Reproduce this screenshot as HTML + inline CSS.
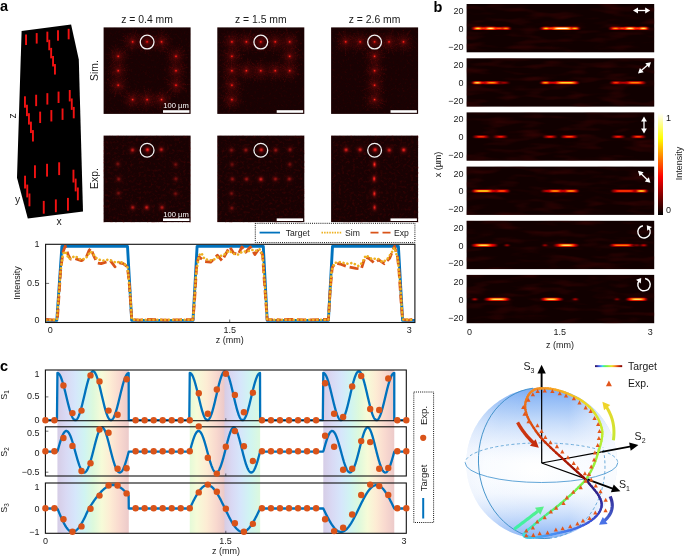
<!DOCTYPE html>
<html lang="en"><head><meta charset="utf-8"><title>Figure</title>
<style>
html,body{margin:0;padding:0;background:#fff;}
svg{display:block;}
text{font-family:"Liberation Sans",Arial,Helvetica,sans-serif;fill:#1a1a1a;}
.t9{font-size:9px;}
.t10{font-size:10.4px;}
.b{font-weight:bold;font-size:14.5px;fill:#000;}
</style></head><body>
<svg width="685" height="556" viewBox="0 0 685 556">
<rect width="685" height="556" fill="#fff"/>
<defs>
<radialGradient id="spS"><stop offset="0" stop-color="#ff4a2a"/><stop offset="0.14" stop-color="#e01410" stop-opacity="0.95"/><stop offset="0.32" stop-color="#8a0808" stop-opacity="0.6"/><stop offset="0.6" stop-color="#5a0505" stop-opacity="0.28"/><stop offset="1" stop-color="#400303" stop-opacity="0"/></radialGradient>
<radialGradient id="spE"><stop offset="0" stop-color="#ff3a2a"/><stop offset="0.26" stop-color="#d81414" stop-opacity="0.9"/><stop offset="0.55" stop-color="#7a0a0a" stop-opacity="0.45"/><stop offset="1" stop-color="#400303" stop-opacity="0"/></radialGradient>
<radialGradient id="glow"><stop offset="0" stop-color="#7a0a0a" stop-opacity="0.55"/><stop offset="0.5" stop-color="#500606" stop-opacity="0.3"/><stop offset="1" stop-color="#300303" stop-opacity="0"/></radialGradient>
<radialGradient id="mglow"><stop offset="0" stop-color="#fff"/><stop offset="0.45" stop-color="#aaa"/><stop offset="1" stop-color="#000" stop-opacity="0"/></radialGradient>
<filter id="nz0" x="0" y="0" width="100%" height="100%" color-interpolation-filters="sRGB"><feTurbulence type="fractalNoise" baseFrequency="0.42" numOctaves="3" seed="7"/><feColorMatrix type="matrix" values="0 0 0 0 0.5  0 0 0 0 0.03  0 0 0 0 0.03  1.9 0 0 0 -0.98"/><feGaussianBlur stdDeviation="0.45"/></filter>
<filter id="nz1" x="0" y="0" width="100%" height="100%" color-interpolation-filters="sRGB"><feTurbulence type="fractalNoise" baseFrequency="0.36" numOctaves="3" seed="11"/><feColorMatrix type="matrix" values="0 0 0 0 0.5  0 0 0 0 0.03  0 0 0 0 0.03  2.1 0 0 0 -1.02"/><feGaussianBlur stdDeviation="0.55"/></filter>
<g id="sb" stroke="#b01414" stroke-width="0.55" stroke-dasharray="1.4 0.9" fill="none"><line x1="2.52" y1="-0.25" x2="11.39" y2="-1.15" opacity="0.61"/><line x1="2.56" y1="0.81" x2="12.06" y2="3.83" opacity="0.63"/><line x1="1.31" y1="1.31" x2="4.96" y2="4.97" opacity="0.55"/><line x1="0.58" y1="1.5" x2="4.51" y2="11.72" opacity="0.48"/><line x1="0.13" y1="1.56" x2="1.12" y2="13.94" opacity="0.76"/><line x1="-1.17" y1="2.12" x2="-3.5" y2="6.33" opacity="0.53"/><line x1="-1.18" y1="1.18" x2="-9.65" y2="9.67" opacity="0.55"/><line x1="-2.4" y1="1.3" x2="-6.92" y2="3.75" opacity="0.86"/><line x1="-2.33" y1="0.03" x2="-9.4" y2="0.13" opacity="0.62"/><line x1="-1.49" y1="-0.46" x2="-12.48" y2="-3.84" opacity="0.48"/><line x1="-1.17" y1="-1.38" x2="-8.89" y2="-10.53" opacity="0.84"/><line x1="-0.82" y1="-2.51" x2="-3.44" y2="-10.52" opacity="0.75"/><line x1="-0.25" y1="-2.2" x2="-1.45" y2="-12.71" opacity="0.46"/><line x1="1.41" y1="-2.46" x2="4.9" y2="-8.56" opacity="0.55"/><line x1="1.45" y1="-1.49" x2="9.73" y2="-10.02" opacity="0.56"/><line x1="1.41" y1="-0.84" x2="10.35" y2="-6.13" opacity="0.9"/></g>
</defs>
<text class="b" x="0" y="11.2">a</text>
<polygon points="21.6,31.1 71.1,24.6 78.8,59.5 83,211.6 27.8,218.5 17,177.8" fill="#000"/>
<g fill="#f21212"><rect x="25.1" y="34.5" width="1.9" height="10.5"/><rect x="35.75" y="33.08" width="1.9" height="10.5"/><rect x="46.4" y="31.66" width="1.9" height="10.5"/><rect x="57.05" y="30.24" width="1.9" height="10.5"/><rect x="67.7" y="28.82" width="1.9" height="10.5"/><rect x="48.3" y="39.76" width="1.9" height="10.5"/><rect x="50.2" y="47.86" width="1.9" height="10.5"/><rect x="52.1" y="55.96" width="1.9" height="10.5"/><rect x="54" y="64.06" width="1.9" height="10.5"/><rect x="24" y="96.3" width="1.9" height="11.4"/><rect x="35.2" y="94.73" width="1.9" height="11.4"/><rect x="46.4" y="93.16" width="1.9" height="11.4"/><rect x="57.6" y="91.59" width="1.9" height="11.4"/><rect x="68.8" y="90.02" width="1.9" height="11.4"/><rect x="26" y="104.75" width="1.9" height="11.4"/><rect x="70.8" y="98.47" width="1.9" height="11.4"/><rect x="28" y="113.2" width="1.9" height="11.4"/><rect x="39.2" y="111.63" width="1.9" height="11.4"/><rect x="50.4" y="110.06" width="1.9" height="11.4"/><rect x="61.6" y="108.49" width="1.9" height="11.4"/><rect x="72.8" y="106.92" width="1.9" height="11.4"/><rect x="30" y="121.65" width="1.9" height="11.4"/><rect x="32" y="130.1" width="1.9" height="11.4"/><rect x="34" y="165.3" width="1.9" height="12.8"/><rect x="46.1" y="163.8" width="1.9" height="12.8"/><rect x="58.2" y="162.3" width="1.9" height="12.8"/><rect x="24.1" y="175.7" width="1.9" height="12.8"/><rect x="72.5" y="169.7" width="1.9" height="12.8"/><rect x="26.3" y="184.6" width="1.9" height="12.8"/><rect x="74.7" y="178.6" width="1.9" height="12.8"/><rect x="28.5" y="193.5" width="1.9" height="12.8"/><rect x="76.9" y="187.5" width="1.9" height="12.8"/><rect x="42.8" y="200.9" width="1.9" height="12.8"/><rect x="54.9" y="199.4" width="1.9" height="12.8"/><rect x="67" y="197.9" width="1.9" height="12.8"/></g>
<text class="t10" transform="translate(16,115.8) rotate(-90)" text-anchor="middle">z</text>
<text class="t10" x="17.5" y="203" text-anchor="middle">y</text>
<text class="t10" x="59" y="225" text-anchor="middle">x</text>
<text class="t10" x="147.1" y="22.6" text-anchor="middle">z = 0.4 mm</text>
<g><rect x="103.6" y="27.4" width="87" height="86.5" fill="#190203"/>
<mask id="mk0" maskUnits="userSpaceOnUse" x="103.6" y="27.4" width="87" height="86.5"><rect x="103.6" y="27.4" width="87" height="86.5" fill="#3a3a3a"/><circle cx="132.65" cy="41.85" r="17" fill="url(#mglow)"/><circle cx="147.1" cy="41.85" r="17" fill="url(#mglow)"/><circle cx="161.55" cy="41.85" r="17" fill="url(#mglow)"/><circle cx="118.2" cy="56.3" r="17" fill="url(#mglow)"/><circle cx="176" cy="56.3" r="17" fill="url(#mglow)"/><circle cx="118.2" cy="70.75" r="17" fill="url(#mglow)"/><circle cx="176" cy="70.75" r="17" fill="url(#mglow)"/><circle cx="118.2" cy="85.2" r="17" fill="url(#mglow)"/><circle cx="176" cy="85.2" r="17" fill="url(#mglow)"/><circle cx="132.65" cy="99.65" r="17" fill="url(#mglow)"/><circle cx="147.1" cy="99.65" r="17" fill="url(#mglow)"/><circle cx="161.55" cy="99.65" r="17" fill="url(#mglow)"/></mask>
<g mask="url(#mk0)"><rect x="103.6" y="27.4" width="87" height="86.5" filter="url(#nz0)"/></g>
<use href="#sb" transform="translate(132.65,41.85) rotate(318)" opacity="0.42"/><circle cx="132.65" cy="41.85" r="12" fill="url(#glow)"/><circle cx="132.65" cy="41.85" r="4.2" fill="url(#spS)"/>
<use href="#sb" transform="translate(147.1,41.85) rotate(130)" opacity="0.42"/><circle cx="147.1" cy="41.85" r="12" fill="url(#glow)"/><circle cx="147.1" cy="41.85" r="4.2" fill="url(#spS)"/>
<use href="#sb" transform="translate(161.55,41.85) rotate(183)" opacity="0.42"/><circle cx="161.55" cy="41.85" r="12" fill="url(#glow)"/><circle cx="161.55" cy="41.85" r="4.2" fill="url(#spS)"/>
<use href="#sb" transform="translate(118.2,56.3) rotate(353)" opacity="0.42"/><circle cx="118.2" cy="56.3" r="12" fill="url(#glow)"/><circle cx="118.2" cy="56.3" r="4.2" fill="url(#spS)"/>
<use href="#sb" transform="translate(176,56.3) rotate(333)" opacity="0.42"/><circle cx="176" cy="56.3" r="12" fill="url(#glow)"/><circle cx="176" cy="56.3" r="4.2" fill="url(#spS)"/>
<use href="#sb" transform="translate(118.2,70.75) rotate(271)" opacity="0.42"/><circle cx="118.2" cy="70.75" r="12" fill="url(#glow)"/><circle cx="118.2" cy="70.75" r="4.2" fill="url(#spS)"/>
<use href="#sb" transform="translate(176,70.75) rotate(14)" opacity="0.42"/><circle cx="176" cy="70.75" r="12" fill="url(#glow)"/><circle cx="176" cy="70.75" r="4.2" fill="url(#spS)"/>
<use href="#sb" transform="translate(118.2,85.2) rotate(238)" opacity="0.42"/><circle cx="118.2" cy="85.2" r="12" fill="url(#glow)"/><circle cx="118.2" cy="85.2" r="4.2" fill="url(#spS)"/>
<use href="#sb" transform="translate(176,85.2) rotate(127)" opacity="0.42"/><circle cx="176" cy="85.2" r="12" fill="url(#glow)"/><circle cx="176" cy="85.2" r="4.2" fill="url(#spS)"/>
<use href="#sb" transform="translate(132.65,99.65) rotate(332)" opacity="0.42"/><circle cx="132.65" cy="99.65" r="12" fill="url(#glow)"/><circle cx="132.65" cy="99.65" r="4.2" fill="url(#spS)"/>
<use href="#sb" transform="translate(147.1,99.65) rotate(26)" opacity="0.42"/><circle cx="147.1" cy="99.65" r="12" fill="url(#glow)"/><circle cx="147.1" cy="99.65" r="4.2" fill="url(#spS)"/>
<use href="#sb" transform="translate(161.55,99.65) rotate(80)" opacity="0.42"/><circle cx="161.55" cy="99.65" r="12" fill="url(#glow)"/><circle cx="161.55" cy="99.65" r="4.2" fill="url(#spS)"/>
<circle cx="147.1" cy="42.05" r="6.9" fill="none" stroke="#f2f2f2" stroke-width="1.3"/>
<rect x="163" y="110.2" width="26.4" height="2.6" fill="#fff"/>
<text x="176.1" y="108.3" text-anchor="middle" style="font-size:7.6px;fill:#fff">100 µm</text>
</g>
<g><rect x="103.6" y="135.6" width="87" height="86.5" fill="#190203"/>
<rect x="103.6" y="135.6" width="87" height="86.5" filter="url(#nz1)" opacity="0.33"/>
<circle cx="132.56" cy="150.09" r="8" fill="url(#glow)" opacity="0.56"/><circle cx="132.56" cy="150.09" r="4.4" fill="url(#spE)" opacity="0.7"/>
<circle cx="147.46" cy="149.73" r="8" fill="url(#glow)" opacity="0.76"/><circle cx="147.46" cy="149.73" r="4.4" fill="url(#spE)" opacity="0.95"/>
<circle cx="161.28" cy="149.58" r="8" fill="url(#glow)" opacity="0.56"/><circle cx="161.28" cy="149.58" r="4.4" fill="url(#spE)" opacity="0.7"/>
<circle cx="117.82" cy="164.01" r="8" fill="url(#glow)" opacity="0.3"/><circle cx="117.82" cy="164.01" r="4.4" fill="url(#spE)" opacity="0.38"/>
<circle cx="175.66" cy="164.51" r="8" fill="url(#glow)" opacity="0.29"/><circle cx="175.66" cy="164.51" r="4.4" fill="url(#spE)" opacity="0.36"/>
<circle cx="118.69" cy="179.14" r="8" fill="url(#glow)" opacity="0.34"/><circle cx="118.69" cy="179.14" r="4.4" fill="url(#spE)" opacity="0.42"/>
<circle cx="175.88" cy="178.86" r="8" fill="url(#glow)" opacity="0.29"/><circle cx="175.88" cy="178.86" r="4.4" fill="url(#spE)" opacity="0.36"/>
<circle cx="118.39" cy="193.23" r="8" fill="url(#glow)" opacity="0.29"/><circle cx="118.39" cy="193.23" r="4.4" fill="url(#spE)" opacity="0.36"/>
<circle cx="175.57" cy="193.74" r="8" fill="url(#glow)" opacity="0.29"/><circle cx="175.57" cy="193.74" r="4.4" fill="url(#spE)" opacity="0.36"/>
<circle cx="132.77" cy="207.46" r="8" fill="url(#glow)" opacity="0.48"/><circle cx="132.77" cy="207.46" r="4.4" fill="url(#spE)" opacity="0.6"/>
<circle cx="146.67" cy="207.44" r="8" fill="url(#glow)" opacity="0.58"/><circle cx="146.67" cy="207.44" r="4.4" fill="url(#spE)" opacity="0.72"/>
<circle cx="162.01" cy="207.46" r="8" fill="url(#glow)" opacity="0.48"/><circle cx="162.01" cy="207.46" r="4.4" fill="url(#spE)" opacity="0.6"/>
<circle cx="147.1" cy="150.25" r="6.9" fill="none" stroke="#f2f2f2" stroke-width="1.3"/>
<rect x="163" y="218.4" width="26.4" height="2.6" fill="#fff"/>
<text x="176.1" y="216.5" text-anchor="middle" style="font-size:7.6px;fill:#fff">100 µm</text>
</g>
<text class="t10" x="260.8" y="22.6" text-anchor="middle">z = 1.5 mm</text>
<g><rect x="217.3" y="27.4" width="87" height="86.5" fill="#190203"/>
<mask id="mk1" maskUnits="userSpaceOnUse" x="217.3" y="27.4" width="87" height="86.5"><rect x="217.3" y="27.4" width="87" height="86.5" fill="#3a3a3a"/><circle cx="231.9" cy="41.85" r="17" fill="url(#mglow)"/><circle cx="246.35" cy="41.85" r="17" fill="url(#mglow)"/><circle cx="260.8" cy="41.85" r="17" fill="url(#mglow)"/><circle cx="275.25" cy="41.85" r="17" fill="url(#mglow)"/><circle cx="289.7" cy="41.85" r="17" fill="url(#mglow)"/><circle cx="231.9" cy="56.3" r="17" fill="url(#mglow)"/><circle cx="289.7" cy="56.3" r="17" fill="url(#mglow)"/><circle cx="231.9" cy="70.75" r="17" fill="url(#mglow)"/><circle cx="246.35" cy="70.75" r="17" fill="url(#mglow)"/><circle cx="260.8" cy="70.75" r="17" fill="url(#mglow)"/><circle cx="275.25" cy="70.75" r="17" fill="url(#mglow)"/><circle cx="289.7" cy="70.75" r="17" fill="url(#mglow)"/><circle cx="231.9" cy="85.2" r="17" fill="url(#mglow)"/><circle cx="231.9" cy="99.65" r="17" fill="url(#mglow)"/></mask>
<g mask="url(#mk1)"><rect x="217.3" y="27.4" width="87" height="86.5" filter="url(#nz0)"/></g>
<use href="#sb" transform="translate(231.9,41.85) rotate(92)" opacity="0.42"/><circle cx="231.9" cy="41.85" r="12" fill="url(#glow)"/><circle cx="231.9" cy="41.85" r="4.2" fill="url(#spS)"/>
<use href="#sb" transform="translate(246.35,41.85) rotate(62)" opacity="0.42"/><circle cx="246.35" cy="41.85" r="12" fill="url(#glow)"/><circle cx="246.35" cy="41.85" r="4.2" fill="url(#spS)"/>
<use href="#sb" transform="translate(260.8,41.85) rotate(338)" opacity="0.42"/><circle cx="260.8" cy="41.85" r="12" fill="url(#glow)"/><circle cx="260.8" cy="41.85" r="4.2" fill="url(#spS)"/>
<use href="#sb" transform="translate(275.25,41.85) rotate(229)" opacity="0.42"/><circle cx="275.25" cy="41.85" r="12" fill="url(#glow)"/><circle cx="275.25" cy="41.85" r="4.2" fill="url(#spS)"/>
<use href="#sb" transform="translate(289.7,41.85) rotate(171)" opacity="0.42"/><circle cx="289.7" cy="41.85" r="12" fill="url(#glow)"/><circle cx="289.7" cy="41.85" r="4.2" fill="url(#spS)"/>
<use href="#sb" transform="translate(231.9,56.3) rotate(122)" opacity="0.42"/><circle cx="231.9" cy="56.3" r="12" fill="url(#glow)"/><circle cx="231.9" cy="56.3" r="4.2" fill="url(#spS)"/>
<use href="#sb" transform="translate(289.7,56.3) rotate(101)" opacity="0.42"/><circle cx="289.7" cy="56.3" r="12" fill="url(#glow)"/><circle cx="289.7" cy="56.3" r="4.2" fill="url(#spS)"/>
<use href="#sb" transform="translate(231.9,70.75) rotate(250)" opacity="0.42"/><circle cx="231.9" cy="70.75" r="12" fill="url(#glow)"/><circle cx="231.9" cy="70.75" r="4.2" fill="url(#spS)"/>
<use href="#sb" transform="translate(246.35,70.75) rotate(321)" opacity="0.42"/><circle cx="246.35" cy="70.75" r="12" fill="url(#glow)"/><circle cx="246.35" cy="70.75" r="4.2" fill="url(#spS)"/>
<use href="#sb" transform="translate(260.8,70.75) rotate(252)" opacity="0.42"/><circle cx="260.8" cy="70.75" r="12" fill="url(#glow)"/><circle cx="260.8" cy="70.75" r="4.2" fill="url(#spS)"/>
<use href="#sb" transform="translate(275.25,70.75) rotate(93)" opacity="0.42"/><circle cx="275.25" cy="70.75" r="12" fill="url(#glow)"/><circle cx="275.25" cy="70.75" r="4.2" fill="url(#spS)"/>
<use href="#sb" transform="translate(289.7,70.75) rotate(245)" opacity="0.42"/><circle cx="289.7" cy="70.75" r="12" fill="url(#glow)"/><circle cx="289.7" cy="70.75" r="4.2" fill="url(#spS)"/>
<use href="#sb" transform="translate(231.9,85.2) rotate(151)" opacity="0.42"/><circle cx="231.9" cy="85.2" r="12" fill="url(#glow)"/><circle cx="231.9" cy="85.2" r="4.2" fill="url(#spS)"/>
<use href="#sb" transform="translate(231.9,99.65) rotate(234)" opacity="0.42"/><circle cx="231.9" cy="99.65" r="12" fill="url(#glow)"/><circle cx="231.9" cy="99.65" r="4.2" fill="url(#spS)"/>
<circle cx="260.8" cy="42.05" r="6.9" fill="none" stroke="#f2f2f2" stroke-width="1.3"/>
<rect x="276.7" y="110.2" width="26.4" height="2.6" fill="#fff"/>
</g>
<g><rect x="217.3" y="135.6" width="87" height="86.5" fill="#190203"/>
<rect x="217.3" y="135.6" width="87" height="86.5" filter="url(#nz1)" opacity="0.33"/>
<circle cx="231.44" cy="150.14" r="8" fill="url(#glow)" opacity="0.34"/><circle cx="231.44" cy="150.14" r="4.4" fill="url(#spE)" opacity="0.42"/>
<circle cx="245.87" cy="150.06" r="8" fill="url(#glow)" opacity="0.4"/><circle cx="245.87" cy="150.06" r="4.4" fill="url(#spE)" opacity="0.5"/>
<circle cx="261.28" cy="149.84" r="8" fill="url(#glow)" opacity="0.68"/><circle cx="261.28" cy="149.84" r="4.4" fill="url(#spE)" opacity="0.85"/>
<circle cx="275.72" cy="150.19" r="8" fill="url(#glow)" opacity="0.4"/><circle cx="275.72" cy="150.19" r="4.4" fill="url(#spE)" opacity="0.5"/>
<circle cx="290.08" cy="149.57" r="8" fill="url(#glow)" opacity="0.37"/><circle cx="290.08" cy="149.57" r="4.4" fill="url(#spE)" opacity="0.46"/>
<circle cx="232.14" cy="164.52" r="8" fill="url(#glow)" opacity="0.26"/><circle cx="232.14" cy="164.52" r="4.4" fill="url(#spE)" opacity="0.32"/>
<circle cx="289.8" cy="164.38" r="8" fill="url(#glow)" opacity="0.29"/><circle cx="289.8" cy="164.38" r="4.4" fill="url(#spE)" opacity="0.36"/>
<circle cx="232.38" cy="179.11" r="8" fill="url(#glow)" opacity="0.37"/><circle cx="232.38" cy="179.11" r="4.4" fill="url(#spE)" opacity="0.46"/>
<circle cx="246.58" cy="179.13" r="8" fill="url(#glow)" opacity="0.4"/><circle cx="246.58" cy="179.13" r="4.4" fill="url(#spE)" opacity="0.5"/>
<circle cx="260.85" cy="179.26" r="8" fill="url(#glow)" opacity="0.62"/><circle cx="260.85" cy="179.26" r="4.4" fill="url(#spE)" opacity="0.78"/>
<circle cx="275.37" cy="179.02" r="8" fill="url(#glow)" opacity="0.4"/><circle cx="275.37" cy="179.02" r="4.4" fill="url(#spE)" opacity="0.5"/>
<circle cx="289.34" cy="179.01" r="8" fill="url(#glow)" opacity="0.4"/><circle cx="289.34" cy="179.01" r="4.4" fill="url(#spE)" opacity="0.5"/>
<circle cx="231.55" cy="193.49" r="8" fill="url(#glow)" opacity="0.29"/><circle cx="231.55" cy="193.49" r="4.4" fill="url(#spE)" opacity="0.36"/>
<circle cx="231.83" cy="208.11" r="8" fill="url(#glow)" opacity="0.29"/><circle cx="231.83" cy="208.11" r="4.4" fill="url(#spE)" opacity="0.36"/>
<circle cx="260.8" cy="150.25" r="6.9" fill="none" stroke="#f2f2f2" stroke-width="1.3"/>
<rect x="276.7" y="218.4" width="26.4" height="2.6" fill="#fff"/>
</g>
<text class="t10" x="374.6" y="22.6" text-anchor="middle">z = 2.6 mm</text>
<g><rect x="331.1" y="27.4" width="87" height="86.5" fill="#190203"/>
<mask id="mk2" maskUnits="userSpaceOnUse" x="331.1" y="27.4" width="87" height="86.5"><rect x="331.1" y="27.4" width="87" height="86.5" fill="#3a3a3a"/><circle cx="345.7" cy="41.85" r="17" fill="url(#mglow)"/><circle cx="360.15" cy="41.85" r="17" fill="url(#mglow)"/><circle cx="374.6" cy="41.85" r="17" fill="url(#mglow)"/><circle cx="389.05" cy="41.85" r="17" fill="url(#mglow)"/><circle cx="403.5" cy="41.85" r="17" fill="url(#mglow)"/><circle cx="374.6" cy="56.3" r="17" fill="url(#mglow)"/><circle cx="374.6" cy="70.75" r="17" fill="url(#mglow)"/><circle cx="374.6" cy="85.2" r="17" fill="url(#mglow)"/><circle cx="374.6" cy="99.65" r="17" fill="url(#mglow)"/></mask>
<g mask="url(#mk2)"><rect x="331.1" y="27.4" width="87" height="86.5" filter="url(#nz0)"/></g>
<use href="#sb" transform="translate(345.7,41.85) rotate(6)" opacity="0.42"/><circle cx="345.7" cy="41.85" r="12" fill="url(#glow)"/><circle cx="345.7" cy="41.85" r="4.2" fill="url(#spS)"/>
<use href="#sb" transform="translate(360.15,41.85) rotate(240)" opacity="0.42"/><circle cx="360.15" cy="41.85" r="12" fill="url(#glow)"/><circle cx="360.15" cy="41.85" r="4.2" fill="url(#spS)"/>
<use href="#sb" transform="translate(374.6,41.85) rotate(57)" opacity="0.42"/><circle cx="374.6" cy="41.85" r="12" fill="url(#glow)"/><circle cx="374.6" cy="41.85" r="4.2" fill="url(#spS)"/>
<use href="#sb" transform="translate(389.05,41.85) rotate(201)" opacity="0.42"/><circle cx="389.05" cy="41.85" r="12" fill="url(#glow)"/><circle cx="389.05" cy="41.85" r="4.2" fill="url(#spS)"/>
<use href="#sb" transform="translate(403.5,41.85) rotate(72)" opacity="0.42"/><circle cx="403.5" cy="41.85" r="12" fill="url(#glow)"/><circle cx="403.5" cy="41.85" r="4.2" fill="url(#spS)"/>
<use href="#sb" transform="translate(374.6,56.3) rotate(350)" opacity="0.42"/><circle cx="374.6" cy="56.3" r="12" fill="url(#glow)"/><circle cx="374.6" cy="56.3" r="4.2" fill="url(#spS)"/>
<use href="#sb" transform="translate(374.6,70.75) rotate(22)" opacity="0.42"/><circle cx="374.6" cy="70.75" r="12" fill="url(#glow)"/><circle cx="374.6" cy="70.75" r="4.2" fill="url(#spS)"/>
<use href="#sb" transform="translate(374.6,85.2) rotate(71)" opacity="0.42"/><circle cx="374.6" cy="85.2" r="12" fill="url(#glow)"/><circle cx="374.6" cy="85.2" r="4.2" fill="url(#spS)"/>
<use href="#sb" transform="translate(374.6,99.65) rotate(57)" opacity="0.42"/><circle cx="374.6" cy="99.65" r="12" fill="url(#glow)"/><circle cx="374.6" cy="99.65" r="4.2" fill="url(#spS)"/>
<circle cx="374.6" cy="42.05" r="6.9" fill="none" stroke="#f2f2f2" stroke-width="1.3"/>
<rect x="390.5" y="110.2" width="26.4" height="2.6" fill="#fff"/>
</g>
<g><rect x="331.1" y="135.6" width="87" height="86.5" fill="#190203"/>
<rect x="331.1" y="135.6" width="87" height="86.5" filter="url(#nz1)" opacity="0.33"/>
<circle cx="346.11" cy="149.84" r="8" fill="url(#glow)" opacity="0.64"/><circle cx="346.11" cy="149.84" r="4.4" fill="url(#spE)" opacity="0.8"/>
<circle cx="360.11" cy="149.69" r="8" fill="url(#glow)" opacity="0.64"/><circle cx="360.11" cy="149.69" r="4.4" fill="url(#spE)" opacity="0.8"/>
<circle cx="375.1" cy="149.7" r="8" fill="url(#glow)" opacity="0.8"/><circle cx="375.1" cy="149.7" r="4.4" fill="url(#spE)" opacity="1"/>
<circle cx="389.22" cy="150.15" r="8" fill="url(#glow)" opacity="0.64"/><circle cx="389.22" cy="150.15" r="4.4" fill="url(#spE)" opacity="0.8"/>
<circle cx="403.71" cy="149.96" r="8" fill="url(#glow)" opacity="0.74"/><circle cx="403.71" cy="149.96" r="4.4" fill="url(#spE)" opacity="0.92"/>
<circle cx="374.48" cy="164.4" r="8" fill="url(#glow)" opacity="0.8"/><ellipse cx="374.48" cy="164.4" rx="3.2" ry="5.6" fill="url(#spE)" opacity="1"/>
<circle cx="374.17" cy="178.77" r="8" fill="url(#glow)" opacity="0.8"/><ellipse cx="374.17" cy="178.77" rx="3.2" ry="5.6" fill="url(#spE)" opacity="1"/>
<circle cx="374.38" cy="193.68" r="8" fill="url(#glow)" opacity="0.72"/><ellipse cx="374.38" cy="193.68" rx="3.2" ry="5.6" fill="url(#spE)" opacity="0.9"/>
<circle cx="374.55" cy="207.45" r="8" fill="url(#glow)" opacity="0.64"/><ellipse cx="374.55" cy="207.45" rx="3.2" ry="5.6" fill="url(#spE)" opacity="0.8"/>
<circle cx="374.6" cy="150.25" r="6.9" fill="none" stroke="#f2f2f2" stroke-width="1.3"/>
<rect x="390.5" y="218.4" width="26.4" height="2.6" fill="#fff"/>
</g>
<text class="t10" transform="translate(97.5,70.5) rotate(-90)" text-anchor="middle">Sim.</text>
<text class="t10" transform="translate(97.5,178.5) rotate(-90)" text-anchor="middle">Exp.</text>
<rect x="255.3" y="223.3" width="159.6" height="19.3" fill="#fff" stroke="#111" stroke-width="1" stroke-dasharray="1 1.1"/>
<line x1="259.6" y1="232.6" x2="280" y2="232.6" stroke="#0072bd" stroke-width="1.8"/>
<text class="t9" x="285.8" y="235.8" style="font-size:8.6px">Target</text>
<line x1="321.5" y1="232.6" x2="341.5" y2="232.6" stroke="#edb120" stroke-width="1.6" stroke-dasharray="1.5 1.1"/>
<text class="t9" x="345" y="235.8" style="font-size:8.6px">Sim</text>
<line x1="370.5" y1="232.6" x2="390.5" y2="232.6" stroke="#d95319" stroke-width="1.8" stroke-dasharray="8 4"/>
<text class="t9" x="394" y="235.8" style="font-size:8.6px">Exp</text>
<rect x="45.6" y="244.3" width="369.3" height="78.2" fill="#fff"/>
<clipPath id="cpI"><rect x="45.6" y="244.3" width="369.3" height="78.2"/></clipPath>
<g clip-path="url(#cpI)" fill="none" stroke-linejoin="round">
<polyline points="45.6,320.4 56.8,320.4 61.9,246.4 127.5,246.4 131.7,320.4 193,320.4 197.1,246.4 263.3,246.4 267.2,320.4 328.4,320.4 332.5,246.4 398.4,246.4 402.6,320.4 414.9,320.4" stroke="#0072bd" stroke-width="2.9"/>
<polyline points="46.12,319.51 56.06,320.28 57.58,316.45 60.64,270.58 62.94,252.23 65.23,246.12 68.29,255.29 70.58,259.11 75.17,258.65 81.28,260.64 85.87,258.35 88.93,250.7 90.76,248.41 93.52,255.29 97.34,262.94 101.16,263.7 105.75,262.17 110.34,260.64 114.92,266.76 119.51,262.94 123.33,263.7 127.46,266.76 129.45,285.87 131.74,319.51 138.72,320.12 149.42,319.36 164.71,320.12 180,319.82 193,319.51 194.53,301.16 196.82,262.94 199.11,256.82 204.46,261.41 210.58,262.17 217.46,255.29 222.05,260.64 229.69,246.88 233.52,253 238.1,254.53 241.93,246.88 245.75,252.23 250.34,246.88 254.92,254.53 258.75,249.17 262.57,254.53 264.1,278.23 267.16,319.51 280,319.82 277.19,320.12 289.42,319.36 304.71,319.97 320,319.51 328.41,319.51 329.94,293.52 332.23,267.52 335.29,262.94 341.41,264.46 347.52,266.76 355.93,268.29 361.28,269.05 365.11,256.82 368.93,258.35 374.28,262.94 378.87,259.88 384.22,263.7 389.57,258.35 394.46,246.42 397.22,255.29 398.75,267.52 401.04,301.16 402.57,319.51 408.69,320.12 414.8,318.9" stroke="#d95319" stroke-width="2.8" stroke-dasharray="9 4"/>
<polyline points="46.12,320.12 56.82,319.82 60.64,270.58 62.94,253.76 65.23,251.47 69.05,259.11 75.17,256.06 81.28,259.88 85.87,258.35 90.46,251.47 93.52,254.53 97.34,259.11 102.69,260.64 107.28,259.88 111.87,260.64 116.45,262.94 119.51,261.41 124.1,263.7 127.46,266.76 130.21,293.52 131.74,319.51 138.72,319.82 193,319.82 196.06,273.64 199.11,255.29 201.41,253 204.46,259.11 212.11,260.64 218.23,256.82 224.34,254.53 228.93,250.7 233.52,253.76 238.1,254.53 242.69,251.47 247.28,251.47 251.87,249.94 256.45,250.7 259.51,249.17 262.57,255.29 264.86,285.87 267.16,319.51 277.19,319.82 328.41,319.82 331.47,270.58 334.53,262.94 339.88,262.17 347.52,263.7 352.87,262.94 358.23,265.99 362.05,262.94 365.87,255.29 371.99,259.11 377.34,258.35 382.69,262.17 387.28,259.11 391.87,252.23 394.46,247.65 397.98,259.88 400.28,285.87 402.57,319.51 414.8,319.82" stroke="#edb120" stroke-width="2.6" stroke-dasharray="0.1 3.8" stroke-linecap="round"/>
</g>
<rect x="45.6" y="244.3" width="369.3" height="78.2" fill="none" stroke="#111" stroke-width="1.1"/>
<path d="M45.6,283.4h3.5 M229.7,322.5v-3" stroke="#111" stroke-width="0.6" fill="none"/>
<text class="t9" x="39.5" y="247.1" text-anchor="end">1</text>
<text class="t9" x="39.5" y="286.3" text-anchor="end">0.5</text>
<text class="t9" x="39.5" y="323.4" text-anchor="end">0</text>
<text class="t9" x="50.3" y="332.6" text-anchor="middle">0</text>
<text class="t9" x="229.8" y="332.6" text-anchor="middle">1.5</text>
<text class="t9" x="409.3" y="332.6" text-anchor="middle">3</text>
<text class="t9" x="229.8" y="342.8" text-anchor="middle">z (mm)</text>
<text class="t9" transform="translate(19.6,283) rotate(-90)" text-anchor="middle">Intensity</text>
<defs>
<filter id="bl" x="-5%" y="-200%" width="110%" height="500%"><feGaussianBlur stdDeviation="1.1 0.5"/></filter>
<filter id="bnz" x="0" y="0" width="100%" height="100%" color-interpolation-filters="sRGB"><feTurbulence type="fractalNoise" baseFrequency="0.035 0.16" numOctaves="2" seed="11"/><feColorMatrix type="matrix" values="0 0 0 0 0.3  0 0 0 0 0.02  0 0 0 0 0.02  2.2 0 0 0 -1.0"/></filter>
<linearGradient id="cb" x1="0" y1="0" x2="0" y2="1"><stop offset="0" stop-color="#fff"/><stop offset="0.25" stop-color="#ffff00"/><stop offset="0.625" stop-color="#ff0000"/><stop offset="1" stop-color="#000"/></linearGradient>
</defs>
<text class="b" x="433.6" y="11.6">b</text>
<clipPath id="cpb0"><rect x="466.6" y="4" width="187.6" height="48.3"/></clipPath>
<rect x="466.6" y="4" width="187.6" height="48.3" fill="#110000"/>
<g clip-path="url(#cpb0)"><rect x="464.6" y="2" width="191.6" height="52.3" filter="url(#bnz)" opacity="0.55"/></g>
<g clip-path="url(#cpb0)"><g filter="url(#bl)">
<rect x="472" y="26.85" width="38.5" height="3.1" rx="1.55" fill="#940000" opacity="0.85"/><rect x="474.7" y="27.4" width="33.1" height="2.0" rx="1" fill="#f00000"/><rect x="477" y="27.85" width="28.5" height="1.1" rx="0.55" fill="#ff6200"/>
<rect x="540.5" y="26.85" width="39" height="3.1" rx="1.55" fill="#9d0000" opacity="0.85"/><rect x="543.2" y="27.4" width="33.6" height="2.0" rx="1" fill="#fe0000"/><rect x="545.5" y="27.85" width="29" height="1.1" rx="0.55" fill="#ff7700"/>
<rect x="609.5" y="26.85" width="39" height="3.1" rx="1.55" fill="#940000" opacity="0.85"/><rect x="612.2" y="27.4" width="33.6" height="2.0" rx="1" fill="#f00000"/><rect x="614.5" y="27.85" width="29" height="1.1" rx="0.55" fill="#ff6200"/>
<rect x="473.5" y="26.85" width="9" height="3.1" rx="1.55" fill="#e40000" opacity="0.85"/><rect x="475.44" y="27.4" width="5.12" height="2.0" rx="1" fill="#ff7200"/><rect x="476.4" y="27.85" width="3.2" height="1.1" rx="0.55" fill="#ffff33"/>
<rect x="484.5" y="26.85" width="12" height="3.1" rx="1.55" fill="#fb0000" opacity="0.85"/><rect x="486.98" y="27.4" width="7.04" height="2.0" rx="1" fill="#ff9700"/><rect x="488.3" y="27.85" width="4.4" height="1.1" rx="0.55" fill="#ffff84"/>
<rect x="501.5" y="26.85" width="8.5" height="3.1" rx="1.55" fill="#b10000" opacity="0.85"/><rect x="503.35" y="27.4" width="4.8" height="2.0" rx="1" fill="#ff1f00"/><rect x="504.25" y="27.85" width="3" height="1.1" rx="0.55" fill="#ffa600"/>
<rect x="542.5" y="26.85" width="7" height="3.1" rx="1.55" fill="#d60000" opacity="0.85"/><rect x="544.08" y="27.4" width="3.84" height="2.0" rx="1" fill="#ff5b00"/><rect x="544.8" y="27.85" width="2.4" height="1.1" rx="0.55" fill="#ffff00"/>
<rect x="551.5" y="26.85" width="21" height="3.1" rx="1.55" fill="#ff1600" opacity="0.85"/><rect x="554.2" y="27.4" width="15.6" height="2.0" rx="1" fill="#ffc100"/><rect x="556.5" y="27.85" width="11" height="1.1" rx="0.55" fill="#ffffe0"/>
<rect x="570.5" y="26.85" width="8.5" height="3.1" rx="1.55" fill="#c70000" opacity="0.85"/><rect x="572.35" y="27.4" width="4.8" height="2.0" rx="1" fill="#ff4400"/><rect x="573.25" y="27.85" width="3" height="1.1" rx="0.55" fill="#ffdc00"/>
<rect x="610.5" y="26.85" width="10" height="3.1" rx="1.55" fill="#b10000" opacity="0.85"/><rect x="612.62" y="27.4" width="5.76" height="2.0" rx="1" fill="#ff1f00"/><rect x="613.7" y="27.85" width="3.6" height="1.1" rx="0.55" fill="#ffa600"/>
<rect x="623.5" y="26.85" width="13" height="3.1" rx="1.55" fill="#fb0000" opacity="0.85"/><rect x="626.16" y="27.4" width="7.68" height="2.0" rx="1" fill="#ff9700"/><rect x="627.6" y="27.85" width="4.8" height="1.1" rx="0.55" fill="#ffff84"/>
<rect x="638.5" y="26.85" width="9.5" height="3.1" rx="1.55" fill="#f20000" opacity="0.85"/><rect x="640.53" y="27.4" width="5.44" height="2.0" rx="1" fill="#ff8a00"/><rect x="641.55" y="27.85" width="3.4" height="1.1" rx="0.55" fill="#ffff65"/>
</g></g>
<text class="t9" x="463.6" y="14" text-anchor="end">20</text><text class="t9" x="463.6" y="31.7" text-anchor="end">0</text><text class="t9" x="463.6" y="49.6" text-anchor="end">−20</text>
<clipPath id="cpb1"><rect x="466.6" y="58.3" width="187.6" height="48.3"/></clipPath>
<rect x="466.6" y="58.3" width="187.6" height="48.3" fill="#110000"/>
<g clip-path="url(#cpb1)"><rect x="464.6" y="56.3" width="191.6" height="52.3" filter="url(#bnz)" opacity="0.55"/></g>
<g clip-path="url(#cpb1)"><g filter="url(#bl)">
<rect x="472" y="81.15" width="32.5" height="3.1" rx="1.55" fill="#720000" opacity="0.85"/><rect x="474.7" y="81.7" width="27.1" height="2.0" rx="1" fill="#b80000"/><rect x="477" y="82.15" width="22.5" height="1.1" rx="0.55" fill="#ff1100"/>
<rect x="540.5" y="81.15" width="38.5" height="3.1" rx="1.55" fill="#660000" opacity="0.85"/><rect x="543.2" y="81.7" width="33.1" height="2.0" rx="1" fill="#a60000"/><rect x="545.5" y="82.15" width="28.5" height="1.1" rx="0.55" fill="#f40000"/>
<rect x="610.5" y="81.15" width="35" height="3.1" rx="1.55" fill="#550000" opacity="0.85"/><rect x="613.2" y="81.7" width="29.6" height="2.0" rx="1" fill="#8a0000"/><rect x="615.5" y="82.15" width="25" height="1.1" rx="0.55" fill="#cb0000"/>
<rect x="472.5" y="81.15" width="9.5" height="3.1" rx="1.55" fill="#f20000" opacity="0.85"/><rect x="474.53" y="81.7" width="5.44" height="2.0" rx="1" fill="#ff8a00"/><rect x="475.55" y="82.15" width="3.4" height="1.1" rx="0.55" fill="#ffff65"/>
<rect x="484" y="81.15" width="15.5" height="3.1" rx="1.55" fill="#bc0000" opacity="0.85"/><rect x="486.7" y="81.7" width="10.1" height="2.0" rx="1" fill="#ff3200"/><rect x="488.85" y="82.15" width="5.8" height="1.1" rx="0.55" fill="#ffc100"/>
<rect x="498.5" y="81.15" width="11" height="3.1" rx="1.55" fill="#4a0000" opacity="0.85"/><rect x="500.8" y="81.7" width="6.4" height="2.0" rx="1" fill="#780000"/><rect x="502" y="82.15" width="4" height="1.1" rx="0.55" fill="#b00000"/>
<rect x="541" y="81.15" width="9" height="3.1" rx="1.55" fill="#c70000" opacity="0.85"/><rect x="542.94" y="81.7" width="5.12" height="2.0" rx="1" fill="#ff4400"/><rect x="543.9" y="82.15" width="3.2" height="1.1" rx="0.55" fill="#ffdc00"/>
<rect x="555" y="81.15" width="22.5" height="3.1" rx="1.55" fill="#e40000" opacity="0.85"/><rect x="557.7" y="81.7" width="17.1" height="2.0" rx="1" fill="#ff7200"/><rect x="560" y="82.15" width="12.5" height="1.1" rx="0.55" fill="#ffff33"/>
<rect x="611" y="81.15" width="10" height="3.1" rx="1.55" fill="#8e0000" opacity="0.85"/><rect x="613.12" y="81.7" width="5.76" height="2.0" rx="1" fill="#e70000"/><rect x="614.2" y="82.15" width="3.6" height="1.1" rx="0.55" fill="#ff5500"/>
<rect x="625.5" y="81.15" width="19" height="3.1" rx="1.55" fill="#b10000" opacity="0.85"/><rect x="628.2" y="81.7" width="13.6" height="2.0" rx="1" fill="#ff1f00"/><rect x="630.5" y="82.15" width="9" height="1.1" rx="0.55" fill="#ffa600"/>
</g></g>
<text class="t9" x="463.6" y="68.3" text-anchor="end">20</text><text class="t9" x="463.6" y="86" text-anchor="end">0</text><text class="t9" x="463.6" y="103.9" text-anchor="end">−20</text>
<clipPath id="cpb2"><rect x="466.6" y="112.4" width="187.6" height="48.3"/></clipPath>
<rect x="466.6" y="112.4" width="187.6" height="48.3" fill="#110000"/>
<g clip-path="url(#cpb2)"><rect x="464.6" y="110.4" width="191.6" height="52.3" filter="url(#bnz)" opacity="0.55"/></g>
<g clip-path="url(#cpb2)"><g filter="url(#bl)">
<rect x="473.5" y="135.25" width="15" height="3.1" rx="1.55" fill="#860000" opacity="0.85"/><rect x="476.2" y="135.8" width="9.6" height="2.0" rx="1" fill="#d90000"/><rect x="478.2" y="136.25" width="5.6" height="1.1" rx="0.55" fill="#ff4000"/>
<rect x="494" y="135.25" width="13" height="3.1" rx="1.55" fill="#770000" opacity="0.85"/><rect x="496.66" y="135.8" width="7.68" height="2.0" rx="1" fill="#c20000"/><rect x="498.1" y="136.25" width="4.8" height="1.1" rx="0.55" fill="#ff1e00"/>
<rect x="543.5" y="135.25" width="13" height="3.1" rx="1.55" fill="#770000" opacity="0.85"/><rect x="546.16" y="135.8" width="7.68" height="2.0" rx="1" fill="#c20000"/><rect x="547.6" y="136.25" width="4.8" height="1.1" rx="0.55" fill="#ff1e00"/>
<rect x="561.5" y="135.25" width="15.5" height="3.1" rx="1.55" fill="#940000" opacity="0.85"/><rect x="564.2" y="135.8" width="10.1" height="2.0" rx="1" fill="#f00000"/><rect x="566.35" y="136.25" width="5.8" height="1.1" rx="0.55" fill="#ff6200"/>
<rect x="612" y="135.25" width="12.5" height="3.1" rx="1.55" fill="#770000" opacity="0.85"/><rect x="614.57" y="135.8" width="7.36" height="2.0" rx="1" fill="#c20000"/><rect x="615.95" y="136.25" width="4.6" height="1.1" rx="0.55" fill="#ff1e00"/>
<rect x="631.5" y="135.25" width="13.5" height="3.1" rx="1.55" fill="#8e0000" opacity="0.85"/><rect x="634.2" y="135.8" width="8.1" height="2.0" rx="1" fill="#e70000"/><rect x="635.75" y="136.25" width="5" height="1.1" rx="0.55" fill="#ff5500"/>
</g></g>
<text class="t9" x="463.6" y="122.4" text-anchor="end">20</text><text class="t9" x="463.6" y="140.1" text-anchor="end">0</text><text class="t9" x="463.6" y="158" text-anchor="end">−20</text>
<clipPath id="cpb3"><rect x="466.6" y="166.6" width="187.6" height="48.3"/></clipPath>
<rect x="466.6" y="166.6" width="187.6" height="48.3" fill="#110000"/>
<g clip-path="url(#cpb3)"><rect x="464.6" y="164.6" width="191.6" height="52.3" filter="url(#bnz)" opacity="0.55"/></g>
<g clip-path="url(#cpb3)"><g filter="url(#bl)">
<rect x="472" y="189.45" width="37.5" height="3.1" rx="1.55" fill="#720000" opacity="0.85"/><rect x="474.7" y="190" width="32.1" height="2.0" rx="1" fill="#b80000"/><rect x="477" y="190.45" width="27.5" height="1.1" rx="0.55" fill="#ff1100"/>
<rect x="541.5" y="189.45" width="37" height="3.1" rx="1.55" fill="#6c0000" opacity="0.85"/><rect x="544.2" y="190" width="31.6" height="2.0" rx="1" fill="#af0000"/><rect x="546.5" y="190.45" width="27" height="1.1" rx="0.55" fill="#ff0300"/>
<rect x="611.5" y="189.45" width="36" height="3.1" rx="1.55" fill="#800000" opacity="0.85"/><rect x="614.2" y="190" width="30.6" height="2.0" rx="1" fill="#d00000"/><rect x="616.5" y="190.45" width="26" height="1.1" rx="0.55" fill="#ff3300"/>
<rect x="473" y="189.45" width="20.1" height="3.1" rx="1.55" fill="#de0000" opacity="0.85"/><rect x="475.7" y="190" width="14.7" height="2.0" rx="1" fill="#ff6900"/><rect x="478" y="190.45" width="10.1" height="1.1" rx="0.55" fill="#ffff1e"/>
<rect x="494.5" y="189.45" width="14.5" height="3.1" rx="1.55" fill="#9d0000" opacity="0.85"/><rect x="497.2" y="190" width="9.1" height="2.0" rx="1" fill="#fe0000"/><rect x="499.05" y="190.45" width="5.4" height="1.1" rx="0.55" fill="#ff7700"/>
<rect x="547.5" y="189.45" width="15" height="3.1" rx="1.55" fill="#bc0000" opacity="0.85"/><rect x="550.2" y="190" width="9.6" height="2.0" rx="1" fill="#ff3200"/><rect x="552.2" y="190.45" width="5.6" height="1.1" rx="0.55" fill="#ffc100"/>
<rect x="563.5" y="189.45" width="14.6" height="3.1" rx="1.55" fill="#bc0000" opacity="0.85"/><rect x="566.2" y="190" width="9.2" height="2.0" rx="1" fill="#ff3200"/><rect x="568.08" y="190.45" width="5.44" height="1.1" rx="0.55" fill="#ffc100"/>
<rect x="635.5" y="189.45" width="11.5" height="3.1" rx="1.55" fill="#e40000" opacity="0.85"/><rect x="637.89" y="190" width="6.72" height="2.0" rx="1" fill="#ff7200"/><rect x="639.15" y="190.45" width="4.2" height="1.1" rx="0.55" fill="#ffff33"/>
<rect x="612.5" y="189.45" width="24" height="3.1" rx="1.55" fill="#8e0000" opacity="0.85"/><rect x="615.2" y="190" width="18.6" height="2.0" rx="1" fill="#e70000"/><rect x="617.5" y="190.45" width="14" height="1.1" rx="0.55" fill="#ff5500"/>
</g></g>
<text class="t9" x="463.6" y="176.6" text-anchor="end">20</text><text class="t9" x="463.6" y="194.3" text-anchor="end">0</text><text class="t9" x="463.6" y="212.2" text-anchor="end">−20</text>
<clipPath id="cpb4"><rect x="466.6" y="220.8" width="187.6" height="48.3"/></clipPath>
<rect x="466.6" y="220.8" width="187.6" height="48.3" fill="#110000"/>
<g clip-path="url(#cpb4)"><rect x="464.6" y="218.8" width="191.6" height="52.3" filter="url(#bnz)" opacity="0.55"/></g>
<g clip-path="url(#cpb4)"><g filter="url(#bl)">
<rect x="472" y="243.65" width="25" height="3.1" rx="1.55" fill="#9d0000" opacity="0.85"/><rect x="474.7" y="244.2" width="19.6" height="2.0" rx="1" fill="#fe0000"/><rect x="477" y="244.65" width="15" height="1.1" rx="0.55" fill="#ff7700"/>
<rect x="474.5" y="243.65" width="18" height="3.1" rx="1.55" fill="#ef0000" opacity="0.85"/><rect x="477.2" y="244.2" width="12.6" height="2.0" rx="1" fill="#ff8500"/><rect x="479.5" y="244.65" width="8" height="1.1" rx="0.55" fill="#ffff5b"/>
<rect x="504.5" y="243.65" width="5" height="3.1" rx="1.55" fill="#550000" opacity="0.85"/><rect x="505.72" y="244.2" width="2.56" height="2.0" rx="1" fill="#8a0000"/><rect x="506.2" y="244.65" width="1.6" height="1.1" rx="0.55" fill="#cb0000"/>
<rect x="542.5" y="243.65" width="5" height="3.1" rx="1.55" fill="#550000" opacity="0.85"/><rect x="543.72" y="244.2" width="2.56" height="2.0" rx="1" fill="#8a0000"/><rect x="544.2" y="244.65" width="1.6" height="1.1" rx="0.55" fill="#cb0000"/>
<rect x="554.5" y="243.65" width="23.6" height="3.1" rx="1.55" fill="#9d0000" opacity="0.85"/><rect x="557.2" y="244.2" width="18.2" height="2.0" rx="1" fill="#fe0000"/><rect x="559.5" y="244.65" width="13.6" height="1.1" rx="0.55" fill="#ff7700"/>
<rect x="557.5" y="243.65" width="18" height="3.1" rx="1.55" fill="#f50000" opacity="0.85"/><rect x="560.2" y="244.2" width="12.6" height="2.0" rx="1" fill="#ff8e00"/><rect x="562.5" y="244.65" width="8" height="1.1" rx="0.55" fill="#ffff70"/>
<rect x="610.5" y="243.65" width="23" height="3.1" rx="1.55" fill="#ab0000" opacity="0.85"/><rect x="613.2" y="244.2" width="17.6" height="2.0" rx="1" fill="#ff1600"/><rect x="615.5" y="244.65" width="13" height="1.1" rx="0.55" fill="#ff9900"/>
<rect x="632.5" y="243.65" width="8" height="3.1" rx="1.55" fill="#3e0000" opacity="0.85"/><rect x="634.26" y="244.2" width="4.48" height="2.0" rx="1" fill="#650000"/><rect x="635.1" y="244.65" width="2.8" height="1.1" rx="0.55" fill="#950000"/>
<rect x="640.5" y="243.65" width="6.5" height="3.1" rx="1.55" fill="#610000" opacity="0.85"/><rect x="641.99" y="244.2" width="3.52" height="2.0" rx="1" fill="#9d0000"/><rect x="642.65" y="244.65" width="2.2" height="1.1" rx="0.55" fill="#e70000"/>
</g></g>
<text class="t9" x="463.6" y="230.8" text-anchor="end">20</text><text class="t9" x="463.6" y="248.5" text-anchor="end">0</text><text class="t9" x="463.6" y="266.4" text-anchor="end">−20</text>
<clipPath id="cpb5"><rect x="466.6" y="274.9" width="187.6" height="48.3"/></clipPath>
<rect x="466.6" y="274.9" width="187.6" height="48.3" fill="#110000"/>
<g clip-path="url(#cpb5)"><rect x="464.6" y="272.9" width="191.6" height="52.3" filter="url(#bnz)" opacity="0.55"/></g>
<g clip-path="url(#cpb5)"><g filter="url(#bl)">
<rect x="472" y="297.75" width="5.5" height="3.1" rx="1.55" fill="#610000" opacity="0.85"/><rect x="473.31" y="298.3" width="2.88" height="2.0" rx="1" fill="#9d0000"/><rect x="473.85" y="298.75" width="1.8" height="1.1" rx="0.55" fill="#e70000"/>
<rect x="484.8" y="297.75" width="24.7" height="3.1" rx="1.55" fill="#9d0000" opacity="0.85"/><rect x="487.5" y="298.3" width="19.3" height="2.0" rx="1" fill="#fe0000"/><rect x="489.8" y="298.75" width="14.7" height="1.1" rx="0.55" fill="#ff7700"/>
<rect x="487.5" y="297.75" width="20" height="3.1" rx="1.55" fill="#f50000" opacity="0.85"/><rect x="490.2" y="298.3" width="14.6" height="2.0" rx="1" fill="#ff8e00"/><rect x="492.5" y="298.75" width="10" height="1.1" rx="0.55" fill="#ffff70"/>
<rect x="541" y="297.75" width="21.5" height="3.1" rx="1.55" fill="#9d0000" opacity="0.85"/><rect x="543.7" y="298.3" width="16.1" height="2.0" rx="1" fill="#fe0000"/><rect x="546" y="298.75" width="11.5" height="1.1" rx="0.55" fill="#ff7700"/>
<rect x="543" y="297.75" width="16.5" height="3.1" rx="1.55" fill="#f50000" opacity="0.85"/><rect x="545.7" y="298.3" width="11.1" height="2.0" rx="1" fill="#ff8e00"/><rect x="548" y="298.75" width="6.5" height="1.1" rx="0.55" fill="#ffff70"/>
<rect x="572.5" y="297.75" width="5.6" height="3.1" rx="1.55" fill="#5b0000" opacity="0.85"/><rect x="573.83" y="298.3" width="2.94" height="2.0" rx="1" fill="#930000"/><rect x="574.38" y="298.75" width="1.84" height="1.1" rx="0.55" fill="#d90000"/>
<rect x="614.5" y="297.75" width="5" height="3.1" rx="1.55" fill="#4a0000" opacity="0.85"/><rect x="615.72" y="298.3" width="2.56" height="2.0" rx="1" fill="#780000"/><rect x="616.2" y="298.75" width="1.6" height="1.1" rx="0.55" fill="#b00000"/>
<rect x="626.5" y="297.75" width="20.5" height="3.1" rx="1.55" fill="#9d0000" opacity="0.85"/><rect x="629.2" y="298.3" width="15.1" height="2.0" rx="1" fill="#fe0000"/><rect x="631.5" y="298.75" width="10.5" height="1.1" rx="0.55" fill="#ff7700"/>
<rect x="628.5" y="297.75" width="17.5" height="3.1" rx="1.55" fill="#f50000" opacity="0.85"/><rect x="631.2" y="298.3" width="12.1" height="2.0" rx="1" fill="#ff8e00"/><rect x="633.5" y="298.75" width="7.5" height="1.1" rx="0.55" fill="#ffff70"/>
</g></g>
<text class="t9" x="463.6" y="284.9" text-anchor="end">20</text><text class="t9" x="463.6" y="302.6" text-anchor="end">0</text><text class="t9" x="463.6" y="320.5" text-anchor="end">−20</text>
<line x1="637" y1="10.5" x2="646.2" y2="10.5" stroke="#fff" stroke-width="1.3"/><polygon points="633,10.5 638,13.4 638,7.6" fill="#fff"/><polygon points="650.2,10.5 645.2,13.4 645.2,7.6" fill="#fff"/>
<line x1="641.03" y1="70.79" x2="647.97" y2="64.81" stroke="#fff" stroke-width="1.3"/><polygon points="638,73.4 643.68,72.33 639.9,67.94" fill="#fff"/><polygon points="651,62.2 649.1,67.66 645.32,63.27" fill="#fff"/>
<line x1="644" y1="120.6" x2="644" y2="129.6" stroke="#fff" stroke-width="1.3"/><polygon points="644,116.6 641.1,121.6 646.9,121.6" fill="#fff"/><polygon points="644,133.6 641.1,128.6 646.9,128.6" fill="#fff"/>
<line x1="640.87" y1="173.58" x2="647.53" y2="180.02" stroke="#fff" stroke-width="1.3"/><polygon points="638,170.8 639.58,176.36 643.61,172.19" fill="#fff"/><polygon points="650.4,182.8 644.79,181.41 648.82,177.24" fill="#fff"/>
<path d="M642.92,225.69 A6.2,6.2 0 1 0 648.89,227.98" fill="none" stroke="#fff" stroke-width="1.4"/><polygon points="646.76,225.26 651.96,227.04 647.23,230.74" fill="#fff"/>
<g transform="translate(1288,0) scale(-1,1)"><path d="M642.92,278.49 A6.2,6.2 0 1 0 648.89,280.78" fill="none" stroke="#fff" stroke-width="1.4"/><polygon points="646.76,278.06 651.96,279.84 647.23,283.54" fill="#fff"/></g>
<text class="t9" x="469.6" y="334.6" text-anchor="middle">0</text><text class="t9" x="559.8" y="334.6" text-anchor="middle">1.5</text><text class="t9" x="650.2" y="334.6" text-anchor="middle">3</text>
<text class="t9" x="560" y="348.2" text-anchor="middle">z (mm)</text>
<text class="t9" transform="translate(441,164.5) rotate(-90)" text-anchor="middle">x (µm)</text>
<rect x="658" y="113" width="5" height="102" fill="url(#cb)" shape-rendering="crispEdges"/>
<text class="t9" x="666" y="120.6">1</text><text class="t9" x="666" y="213.4">0</text>
<text class="t9" transform="translate(682.4,163.5) rotate(-90)" text-anchor="middle">Intensity</text>
<defs><linearGradient id="rb" x1="0" y1="0" x2="1" y2="0"><stop offset="0" stop-color="#d6cde6"/><stop offset="0.12" stop-color="#d9d9f4"/><stop offset="0.25" stop-color="#d6e6fb"/><stop offset="0.38" stop-color="#d0f4f2"/><stop offset="0.5" stop-color="#ddf9dc"/><stop offset="0.62" stop-color="#f6fbd8"/><stop offset="0.74" stop-color="#fdecd4"/><stop offset="0.87" stop-color="#f9d9cf"/><stop offset="1" stop-color="#eccaca"/></linearGradient><linearGradient id="rb2" x1="0" y1="0" x2="1" y2="0"><stop offset="0" stop-color="#e4fad8"/><stop offset="0.1" stop-color="#f6fbd8"/><stop offset="0.24" stop-color="#fdecd4"/><stop offset="0.38" stop-color="#f8d8ce"/><stop offset="0.485" stop-color="#eccaca"/><stop offset="0.5" stop-color="#d8cde4"/><stop offset="0.6" stop-color="#d9d9f4"/><stop offset="0.72" stop-color="#d6e6fb"/><stop offset="0.85" stop-color="#d0f4f2"/><stop offset="1" stop-color="#dcf9de"/></linearGradient></defs>
<text class="b" x="0" y="371.3">c</text>
<rect x="57.43" y="370" width="71.34" height="163.3" fill="url(#rb)"/>
<rect x="189.76" y="370" width="70.38" height="163.3" fill="url(#rb2)"/>
<rect x="323.29" y="370" width="70.98" height="163.3" fill="url(#rb)"/>
<polyline points="45.4,420.2 46.12,420.2 46.84,420.2 47.57,420.2 48.29,420.2 49.01,420.2 49.73,420.2 50.45,420.2 51.17,420.2 51.9,420.2 52.62,420.2 53.34,420.2 54.06,420.2 54.78,420.2 55.51,420.2 56.23,420.2 56.95,420.2 57.43,373.01 57.91,373.09 58.39,373.35 58.87,373.77 59.11,374.04 59.35,374.35 59.6,374.71 59.84,375.1 60.08,375.53 60.32,376 60.56,376.5 60.8,377.04 61.04,377.62 61.28,378.23 61.52,378.87 61.76,379.55 62,380.26 62.24,380.99 62.48,381.75 62.72,382.54 62.96,383.36 63.2,384.2 63.45,385.06 63.69,385.94 63.93,386.84 64.17,387.76 64.41,388.7 64.65,389.65 64.89,390.61 65.13,391.58 65.37,392.56 65.61,393.55 65.85,394.55 66.09,395.54 66.33,396.54 66.57,397.54 66.81,398.54 67.05,399.53 67.29,400.52 67.54,401.51 67.78,402.48 68.02,403.44 68.26,404.39 68.5,405.33 68.74,406.25 68.98,407.15 69.22,408.04 69.46,408.9 69.7,409.75 69.94,410.56 70.18,411.36 70.42,412.12 70.66,412.86 70.9,413.57 71.14,414.25 71.38,414.9 71.63,415.52 71.87,416.1 72.11,416.64 72.35,417.15 72.59,417.63 72.83,418.06 73.07,418.46 73.31,418.81 73.55,419.13 73.79,419.41 74.27,419.84 74.75,420.1 75.23,420.2 75.72,420.13 76.2,419.88 76.68,419.47 76.92,419.2 77.16,418.9 77.4,418.55 77.64,418.16 77.88,417.73 78.12,417.27 78.36,416.77 78.6,416.23 78.84,415.65 79.08,415.05 79.32,414.4 79.57,413.73 79.81,413.02 80.05,412.28 80.29,411.52 80.53,410.73 80.77,409.91 81.01,409.06 81.25,408.19 81.49,407.3 81.73,406.39 81.97,405.47 82.21,404.52 82.45,403.56 82.69,402.58 82.93,401.59 83.17,400.59 83.41,399.58 83.66,398.56 83.9,397.54 84.14,396.51 84.38,395.48 84.62,394.45 84.86,393.42 85.1,392.4 85.34,391.38 85.58,390.36 85.82,389.36 86.06,388.36 86.3,387.38 86.54,386.41 86.78,385.46 87.02,384.52 87.26,383.61 87.5,382.71 87.75,381.84 87.99,380.99 88.23,380.17 88.47,379.37 88.71,378.61 88.95,377.87 89.19,377.17 89.43,376.5 89.67,375.87 89.91,375.27 90.15,374.71 90.39,374.19 90.63,373.71 90.87,373.28 91.11,372.88 91.35,372.53 91.6,372.22 91.84,371.95 92.32,371.56 92.8,371.35 93.28,371.33 93.76,371.49 94.24,371.84 94.72,372.37 94.96,372.7 95.2,373.07 95.44,373.49 95.69,373.95 95.93,374.45 96.17,374.99 96.41,375.57 96.65,376.18 96.89,376.83 97.13,377.52 97.37,378.24 97.61,378.99 97.85,379.77 98.09,380.57 98.33,381.41 98.57,382.27 98.81,383.15 99.05,384.06 99.29,384.99 99.53,385.93 99.78,386.89 100.02,387.87 100.26,388.86 100.5,389.86 100.74,390.87 100.98,391.89 101.22,392.91 101.46,393.94 101.7,394.97 101.94,396 102.18,397.03 102.42,398.05 102.66,399.07 102.9,400.08 103.14,401.09 103.38,402.09 103.63,403.07 103.87,404.04 104.11,404.99 104.35,405.93 104.59,406.85 104.83,407.75 105.07,408.63 105.31,409.49 105.55,410.32 105.79,411.13 106.03,411.91 106.27,412.66 106.51,413.38 106.75,414.07 106.99,414.73 107.23,415.35 107.47,415.95 107.72,416.5 107.96,417.02 108.2,417.51 108.44,417.95 108.68,418.36 108.92,418.73 109.16,419.06 109.4,419.34 109.88,419.8 110.36,420.08 110.84,420.2 111.32,420.14 111.81,419.92 112.29,419.53 112.77,418.98 113.01,418.64 113.25,418.26 113.49,417.85 113.73,417.39 113.97,416.9 114.21,416.37 114.45,415.81 114.69,415.21 114.93,414.58 115.17,413.92 115.41,413.22 115.66,412.5 115.9,411.74 116.14,410.96 116.38,410.16 116.62,409.33 116.86,408.47 117.1,407.6 117.34,406.71 117.58,405.79 117.82,404.86 118.06,403.92 118.3,402.96 118.54,401.99 118.78,401.02 119.02,400.03 119.26,399.04 119.5,398.04 119.75,397.04 119.99,396.04 120.23,395.04 120.47,394.05 120.71,393.06 120.95,392.07 121.19,391.09 121.43,390.13 121.67,389.17 121.91,388.23 122.15,387.3 122.39,386.39 122.63,385.5 122.87,384.63 123.11,383.78 123.35,382.95 123.59,382.15 123.84,381.37 124.08,380.62 124.32,379.9 124.56,379.21 124.8,378.55 125.04,377.92 125.28,377.33 125.52,376.77 125.76,376.24 126,375.76 126.24,375.31 126.48,374.9 126.72,374.52 126.96,374.19 127.2,373.9 127.69,373.44 128.17,373.14 128.65,373.02 128.78,420.2 129.37,420.2 130.09,420.2 130.81,420.2 131.53,420.2 132.26,420.2 132.98,420.2 133.7,420.2 134.42,420.2 135.14,420.2 135.87,420.2 136.59,420.2 137.31,420.2 138.03,420.2 138.75,420.2 139.47,420.2 140.2,420.2 140.92,420.2 141.64,420.2 142.36,420.2 143.08,420.2 143.81,420.2 144.53,420.2 145.25,420.2 145.97,420.2 146.69,420.2 147.41,420.2 148.14,420.2 148.86,420.2 149.58,420.2 150.3,420.2 151.02,420.2 151.75,420.2 152.47,420.2 153.19,420.2 153.91,420.2 154.63,420.2 155.35,420.2 156.08,420.2 156.8,420.2 157.52,420.2 158.24,420.2 158.96,420.2 159.69,420.2 160.41,420.2 161.13,420.2 161.85,420.2 162.57,420.2 163.29,420.2 164.02,420.2 164.74,420.2 165.46,420.2 166.18,420.2 166.9,420.2 167.62,420.2 168.35,420.2 169.07,420.2 169.79,420.2 170.51,420.2 171.23,420.2 171.96,420.2 172.68,420.2 173.4,420.2 174.12,420.2 174.84,420.2 175.56,420.2 176.29,420.2 177.01,420.2 177.73,420.2 178.45,420.2 179.17,420.2 179.9,420.2 180.62,420.2 181.34,420.2 182.06,420.2 182.78,420.2 183.5,420.2 184.23,420.2 184.95,420.2 185.67,420.2 186.39,420.2 187.11,420.2 187.84,420.2 188.56,420.2 189.28,420.2 189.76,373.01 190.24,373.1 190.72,373.36 191.2,373.79 191.44,374.07 191.68,374.39 191.93,374.75 192.17,375.15 192.41,375.6 192.65,376.08 192.89,376.6 193.13,377.15 193.37,377.74 193.61,378.37 193.85,379.03 194.09,379.72 194.33,380.44 194.57,381.2 194.81,381.98 195.05,382.79 195.29,383.62 195.53,384.48 195.78,385.36 196.02,386.26 196.26,387.18 196.5,388.12 196.74,389.07 196.98,390.04 197.22,391.02 197.46,392.01 197.7,393.01 197.94,394.01 198.18,395.02 198.42,396.03 198.66,397.05 198.9,398.06 199.14,399.07 199.38,400.08 199.62,401.08 199.87,402.07 200.11,403.05 200.35,404.02 200.59,404.97 200.83,405.91 201.07,406.83 201.31,407.74 201.55,408.62 201.79,409.48 202.03,410.32 202.27,411.13 202.51,411.92 202.75,412.67 202.99,413.4 203.23,414.1 203.47,414.76 203.71,415.39 203.96,415.99 204.2,416.55 204.44,417.07 204.68,417.56 204.92,418 205.16,418.41 205.4,418.78 205.64,419.1 205.88,419.39 206.36,419.83 206.84,420.1 207.32,420.2 207.81,420.12 208.29,419.87 208.77,419.45 209.01,419.18 209.25,418.86 209.49,418.5 209.73,418.11 209.97,417.67 210.21,417.19 210.45,416.67 210.69,416.12 210.93,415.53 211.17,414.91 211.41,414.25 211.65,413.56 211.9,412.83 212.14,412.08 212.38,411.3 212.62,410.48 212.86,409.65 213.1,408.78 213.34,407.89 213.58,406.99 213.82,406.06 214.06,405.11 214.3,404.14 214.54,403.16 214.78,402.16 215.02,401.15 215.26,400.14 215.5,399.11 215.74,398.07 215.99,397.04 216.23,395.99 216.47,394.95 216.71,393.91 216.95,392.86 217.19,391.83 217.43,390.8 217.67,389.77 217.91,388.76 218.15,387.76 218.39,386.77 218.63,385.8 218.87,384.84 219.11,383.91 219.35,382.99 219.59,382.1 219.84,381.23 220.08,380.39 220.32,379.58 220.56,378.79 220.8,378.04 221.04,377.32 221.28,376.64 221.52,375.99 221.76,375.38 222,374.8 222.24,374.27 222.48,373.78 222.72,373.33 222.96,372.92 223.2,372.56 223.44,372.24 223.68,371.97 224.17,371.57 224.65,371.35 225.13,371.33 225.61,371.5 226.09,371.85 226.57,372.4 226.81,372.74 227.05,373.12 227.29,373.55 227.53,374.02 227.77,374.53 228.02,375.09 228.26,375.68 228.5,376.31 228.74,376.98 228.98,377.68 229.22,378.41 229.46,379.18 229.7,379.98 229.94,380.81 230.18,381.66 230.42,382.54 230.66,383.45 230.9,384.37 231.14,385.32 231.38,386.28 231.62,387.26 231.87,388.26 232.11,389.27 232.35,390.28 232.59,391.31 232.83,392.35 233.07,393.38 233.31,394.43 233.55,395.47 233.79,396.51 234.03,397.56 234.27,398.59 234.51,399.62 234.75,400.65 234.99,401.66 235.23,402.66 235.47,403.65 235.71,404.63 235.96,405.58 236.2,406.52 236.44,407.44 236.68,408.34 236.92,409.22 237.16,410.07 237.4,410.89 237.64,411.69 237.88,412.46 238.12,413.2 238.36,413.91 238.6,414.58 238.84,415.23 239.08,415.83 239.32,416.4 239.56,416.94 239.8,417.43 240.05,417.89 240.29,418.31 240.53,418.69 240.77,419.02 241.01,419.32 241.49,419.78 241.97,420.08 242.45,420.2 242.93,420.14 243.41,419.91 243.9,419.51 244.14,419.25 244.38,418.95 244.62,418.6 244.86,418.21 245.1,417.78 245.34,417.32 245.58,416.81 245.82,416.27 246.06,415.69 246.3,415.08 246.54,414.43 246.78,413.75 247.02,413.04 247.26,412.3 247.5,411.53 247.74,410.73 247.99,409.9 248.23,409.05 248.47,408.18 248.71,407.29 248.95,406.38 249.19,405.44 249.43,404.5 249.67,403.53 249.91,402.56 250.15,401.57 250.39,400.58 250.63,399.57 250.87,398.57 251.11,397.56 251.35,396.54 251.59,395.53 251.83,394.52 252.08,393.51 252.32,392.51 252.56,391.51 252.8,390.53 253.04,389.56 253.28,388.59 253.52,387.65 253.76,386.72 254,385.81 254.24,384.92 254.48,384.05 254.72,383.2 254.96,382.38 255.2,381.58 255.44,380.82 255.68,380.08 255.93,379.37 256.17,378.69 256.41,378.05 256.65,377.44 256.89,376.87 257.13,376.33 257.37,375.83 257.61,375.37 257.85,374.95 258.09,374.57 258.33,374.22 258.57,373.92 259.05,373.45 259.53,373.15 260.02,373.02 260.15,420.2 260.74,420.2 261.46,420.2 262.18,420.2 262.9,420.2 263.62,420.2 264.35,420.2 265.07,420.2 265.79,420.2 266.51,420.2 267.23,420.2 267.96,420.2 268.68,420.2 269.4,420.2 270.12,420.2 270.84,420.2 271.56,420.2 272.29,420.2 273.01,420.2 273.73,420.2 274.45,420.2 275.17,420.2 275.89,420.2 276.62,420.2 277.34,420.2 278.06,420.2 278.78,420.2 279.5,420.2 280.23,420.2 280.95,420.2 281.67,420.2 282.39,420.2 283.11,420.2 283.83,420.2 284.56,420.2 285.28,420.2 286,420.2 286.72,420.2 287.44,420.2 288.17,420.2 288.89,420.2 289.61,420.2 290.33,420.2 291.05,420.2 291.77,420.2 292.5,420.2 293.22,420.2 293.94,420.2 294.66,420.2 295.38,420.2 296.11,420.2 296.83,420.2 297.55,420.2 298.27,420.2 298.99,420.2 299.71,420.2 300.44,420.2 301.16,420.2 301.88,420.2 302.6,420.2 303.32,420.2 304.05,420.2 304.77,420.2 305.49,420.2 306.21,420.2 306.93,420.2 307.65,420.2 308.38,420.2 309.1,420.2 309.82,420.2 310.54,420.2 311.26,420.2 311.98,420.2 312.71,420.2 313.43,420.2 314.15,420.2 314.87,420.2 315.59,420.2 316.32,420.2 317.04,420.2 317.76,420.2 318.48,420.2 319.2,420.2 319.92,420.2 320.65,420.2 321.37,420.2 322.09,420.2 322.81,420.2 323.29,373.01 323.77,373.1 324.26,373.35 324.74,373.78 324.98,374.05 325.22,374.37 325.46,374.72 325.7,375.12 325.94,375.55 326.18,376.03 326.42,376.54 326.66,377.08 326.9,377.67 327.14,378.28 327.38,378.93 327.62,379.61 327.86,380.33 328.11,381.07 328.35,381.84 328.59,382.63 328.83,383.46 329.07,384.3 329.31,385.17 329.55,386.06 329.79,386.97 330.03,387.9 330.27,388.84 330.51,389.79 330.75,390.76 330.99,391.74 331.23,392.73 331.47,393.72 331.71,394.72 331.95,395.73 332.2,396.73 332.44,397.74 332.68,398.74 332.92,399.74 333.16,400.73 333.4,401.72 333.64,402.69 333.88,403.66 334.12,404.61 334.36,405.55 334.6,406.47 334.84,407.37 335.08,408.26 335.32,409.12 335.56,409.96 335.8,410.78 336.04,411.57 336.29,412.33 336.53,413.07 336.77,413.77 337.01,414.44 337.25,415.09 337.49,415.69 337.73,416.27 337.97,416.8 338.21,417.31 338.45,417.77 338.69,418.19 338.93,418.58 339.17,418.93 339.41,419.23 339.65,419.5 340.14,419.9 340.62,420.13 341.1,420.2 341.58,420.09 342.06,419.81 342.54,419.37 342.78,419.08 343.02,418.76 343.26,418.39 343.5,417.98 343.74,417.54 343.98,417.05 344.23,416.53 344.47,415.98 344.71,415.38 344.95,414.76 345.19,414.09 345.43,413.4 345.67,412.68 345.91,411.92 346.15,411.14 346.39,410.33 346.63,409.49 346.87,408.63 347.11,407.75 347.35,406.84 347.59,405.92 347.83,404.98 348.07,404.02 348.32,403.04 348.56,402.05 348.8,401.05 349.04,400.04 349.28,399.02 349.52,398 349.76,396.96 350,395.93 350.24,394.9 350.48,393.86 350.72,392.83 350.96,391.8 351.2,390.78 351.44,389.76 351.68,388.76 351.92,387.77 352.16,386.79 352.41,385.82 352.65,384.88 352.89,383.95 353.13,383.04 353.37,382.15 353.61,381.29 353.85,380.45 354.09,379.65 354.33,378.87 354.57,378.12 354.81,377.4 355.05,376.72 355.29,376.07 355.53,375.46 355.77,374.88 356.01,374.35 356.26,373.86 356.5,373.4 356.74,372.99 356.98,372.63 357.22,372.3 357.46,372.02 357.94,371.6 358.42,371.37 358.9,371.32 359.38,371.46 359.86,371.79 360.35,372.3 360.59,372.63 360.83,372.99 361.07,373.4 361.31,373.86 361.55,374.35 361.79,374.88 362.03,375.46 362.27,376.07 362.51,376.72 362.75,377.4 362.99,378.12 363.23,378.87 363.47,379.65 363.71,380.45 363.95,381.29 364.19,382.15 364.44,383.04 364.68,383.95 364.92,384.88 365.16,385.82 365.4,386.79 365.64,387.77 365.88,388.76 366.12,389.76 366.36,390.78 366.6,391.8 366.84,392.83 367.08,393.86 367.32,394.9 367.56,395.93 367.8,396.96 368.04,398 368.29,399.02 368.53,400.04 368.77,401.05 369.01,402.05 369.25,403.04 369.49,404.02 369.73,404.98 369.97,405.92 370.21,406.84 370.45,407.75 370.69,408.63 370.93,409.49 371.17,410.33 371.41,411.14 371.65,411.92 371.89,412.68 372.13,413.4 372.38,414.09 372.62,414.76 372.86,415.38 373.1,415.98 373.34,416.53 373.58,417.05 373.82,417.54 374.06,417.98 374.3,418.39 374.54,418.76 374.78,419.08 375.02,419.37 375.5,419.81 375.98,420.09 376.47,420.2 376.95,420.13 377.43,419.9 377.91,419.5 378.15,419.23 378.39,418.93 378.63,418.58 378.87,418.19 379.11,417.77 379.35,417.31 379.59,416.8 379.83,416.27 380.07,415.69 380.32,415.09 380.56,414.44 380.8,413.77 381.04,413.07 381.28,412.33 381.52,411.57 381.76,410.78 382,409.96 382.24,409.12 382.48,408.26 382.72,407.37 382.96,406.47 383.2,405.55 383.44,404.61 383.68,403.66 383.92,402.69 384.16,401.72 384.41,400.73 384.65,399.74 384.89,398.74 385.13,397.74 385.37,396.73 385.61,395.73 385.85,394.72 386.09,393.72 386.33,392.73 386.57,391.74 386.81,390.76 387.05,389.79 387.29,388.84 387.53,387.9 387.77,386.97 388.01,386.06 388.25,385.17 388.5,384.3 388.74,383.46 388.98,382.63 389.22,381.84 389.46,381.07 389.7,380.33 389.94,379.61 390.18,378.93 390.42,378.28 390.66,377.67 390.9,377.08 391.14,376.54 391.38,376.03 391.62,375.55 391.86,375.12 392.1,374.72 392.35,374.37 392.59,374.05 392.83,373.78 393.31,373.35 393.79,373.1 394.27,373.01 394.28,420.2 394.99,420.2 395.71,420.2 396.44,420.2 397.16,420.2 397.88,420.2 398.6,420.2 399.32,420.2 400.04,420.2 400.77,420.2 401.49,420.2 402.21,420.2 402.93,420.2 403.65,420.2 404.38,420.2 405.1,420.2 405.82,420.2 406.3,420.2" fill="none" stroke="#0072bd" stroke-width="2.3" stroke-linejoin="round"/>
<rect x="45.4" y="370.0" width="360.9" height="50.7" fill="none" stroke="#111" stroke-width="1.1"/>
<g fill="#d95319"><circle cx="45.4" cy="420.2" r="3.2"/><circle cx="54.42" cy="420.2" r="3.2"/><circle cx="63.45" cy="385.5" r="3.2"/><circle cx="72.47" cy="413.1" r="3.2"/><circle cx="81.49" cy="410.6" r="3.2"/><circle cx="90.51" cy="375.4" r="3.2"/><circle cx="99.53" cy="381.4" r="3.2"/><circle cx="108.56" cy="410.6" r="3.2"/><circle cx="117.58" cy="414.7" r="3.2"/><circle cx="126.6" cy="379.2" r="3.2"/><circle cx="135.62" cy="420.2" r="3.2"/><circle cx="144.65" cy="420.2" r="3.2"/><circle cx="153.67" cy="420.2" r="3.2"/><circle cx="162.69" cy="420.2" r="3.2"/><circle cx="171.72" cy="420.2" r="3.2"/><circle cx="180.74" cy="420.2" r="3.2"/><circle cx="189.76" cy="420.2" r="3.2"/><circle cx="198.78" cy="393.3" r="3.2"/><circle cx="207.81" cy="413.8" r="3.2"/><circle cx="216.83" cy="389.5" r="3.2"/><circle cx="225.85" cy="373.8" r="3.2"/><circle cx="234.87" cy="394.9" r="3.2"/><circle cx="243.9" cy="412.2" r="3.2"/><circle cx="252.92" cy="392.7" r="3.2"/><circle cx="261.94" cy="420.2" r="3.2"/><circle cx="270.96" cy="420.2" r="3.2"/><circle cx="279.99" cy="420.2" r="3.2"/><circle cx="289.01" cy="420.2" r="3.2"/><circle cx="298.03" cy="420.2" r="3.2"/><circle cx="307.05" cy="420.2" r="3.2"/><circle cx="316.07" cy="420.2" r="3.2"/><circle cx="325.1" cy="383.2" r="3.2"/><circle cx="334.12" cy="413.8" r="3.2"/><circle cx="343.14" cy="416.9" r="3.2"/><circle cx="352.16" cy="386.4" r="3.2"/><circle cx="361.19" cy="376" r="3.2"/><circle cx="370.21" cy="409" r="3.2"/><circle cx="379.23" cy="410" r="3.2"/><circle cx="388.25" cy="378.5" r="3.2"/><circle cx="397.28" cy="420.2" r="3.2"/><circle cx="406.3" cy="420.2" r="3.2"/></g>
<polyline points="45.4,451.7 46.12,451.7 46.84,451.7 47.57,451.7 48.29,451.7 49.01,451.7 49.73,451.7 50.45,451.7 51.17,451.7 51.9,451.7 52.62,451.7 53.34,451.7 54.06,451.7 54.78,451.7 55.51,451.7 56.23,451.7 56.95,451.7 57.67,450.82 57.91,449.94 58.15,449.07 58.39,448.2 58.63,447.34 58.87,446.48 59.11,445.63 59.35,444.8 59.6,443.98 59.84,443.17 60.08,442.37 60.32,441.6 60.56,440.84 60.8,440.1 61.04,439.38 61.28,438.68 61.52,438.01 61.76,437.36 62,436.74 62.24,436.14 62.48,435.58 62.72,435.04 62.96,434.53 63.2,434.05 63.45,433.6 63.69,433.19 63.93,432.81 64.17,432.46 64.41,432.15 64.65,431.87 65.13,431.43 65.61,431.12 66.09,430.97 66.81,431.02 67.29,431.24 67.78,431.6 68.26,432.11 68.5,432.42 68.74,432.76 68.98,433.14 69.22,433.55 69.46,433.99 69.7,434.47 69.94,434.97 70.18,435.51 70.42,436.07 70.66,436.66 70.9,437.28 71.14,437.93 71.38,438.6 71.63,439.29 71.87,440.01 72.11,440.74 72.35,441.5 72.59,442.27 72.83,443.07 73.07,443.87 73.31,444.69 73.55,445.53 73.79,446.37 74.03,447.23 74.27,448.09 74.51,448.96 74.75,449.83 74.99,450.71 75.23,451.59 75.47,452.47 75.72,453.35 75.96,454.22 76.2,455.09 76.44,455.96 76.68,456.81 76.92,457.66 77.16,458.5 77.4,459.32 77.64,460.13 77.88,460.93 78.12,461.71 78.36,462.47 78.6,463.21 78.84,463.94 79.08,464.64 79.32,465.31 79.57,465.96 79.81,466.59 80.05,467.19 80.29,467.76 80.53,468.31 80.77,468.82 81.01,469.31 81.25,469.76 81.49,470.18 81.73,470.57 81.97,470.92 82.21,471.24 82.45,471.53 82.93,471.99 83.41,472.31 83.9,472.49 84.38,472.52 84.86,472.4 85.34,472.14 85.82,471.73 86.3,471.18 86.54,470.86 86.78,470.5 87.02,470.1 87.26,469.68 87.5,469.22 87.75,468.73 87.99,468.21 88.23,467.66 88.47,467.08 88.71,466.48 88.95,465.84 89.19,465.18 89.43,464.5 89.67,463.79 89.91,463.06 90.15,462.3 90.39,461.53 90.63,460.73 90.87,459.92 91.11,459.09 91.35,458.24 91.6,457.37 91.84,456.49 92.08,455.6 92.32,454.7 92.56,453.79 92.8,452.86 93.04,451.93 93.28,451 93.52,450.06 93.76,449.11 94,448.17 94.24,447.22 94.48,446.28 94.72,445.34 94.96,444.41 95.2,443.48 95.44,442.56 95.69,441.65 95.93,440.75 96.17,439.87 96.41,439 96.65,438.15 96.89,437.32 97.13,436.51 97.37,435.72 97.61,434.96 97.85,434.22 98.09,433.52 98.33,432.84 98.57,432.2 98.81,431.59 99.05,431.02 99.29,430.49 99.53,429.99 99.78,429.53 100.02,429.12 100.26,428.75 100.5,428.42 100.74,428.14 101.22,427.71 101.7,427.48 102.18,427.43 102.66,427.58 103.14,427.92 103.63,428.45 103.87,428.79 104.11,429.16 104.35,429.58 104.59,430.05 104.83,430.55 105.07,431.09 105.31,431.68 105.55,432.29 105.79,432.95 106.03,433.63 106.27,434.35 106.51,435.09 106.75,435.87 106.99,436.67 107.23,437.49 107.47,438.33 107.72,439.2 107.96,440.08 108.2,440.98 108.44,441.89 108.68,442.81 108.92,443.74 109.16,444.68 109.4,445.63 109.64,446.58 109.88,447.54 110.12,448.49 110.36,449.45 110.6,450.4 110.84,451.35 111.08,452.29 111.32,453.22 111.56,454.15 111.81,455.07 112.05,455.97 112.29,456.87 112.53,457.74 112.77,458.61 113.01,459.46 113.25,460.29 113.49,461.1 113.73,461.89 113.97,462.66 114.21,463.4 114.45,464.13 114.69,464.83 114.93,465.51 115.17,466.15 115.41,466.78 115.66,467.37 115.9,467.94 116.14,468.47 116.38,468.98 116.62,469.46 116.86,469.9 117.1,470.31 117.34,470.69 117.58,471.03 117.82,471.34 118.06,471.62 118.54,472.07 119.02,472.37 119.5,472.53 120.23,472.49 120.71,472.28 121.19,471.93 121.67,471.44 121.91,471.14 122.15,470.8 122.39,470.44 122.63,470.03 122.87,469.6 123.11,469.14 123.35,468.64 123.59,468.11 123.84,467.56 124.08,466.97 124.32,466.36 124.56,465.73 124.8,465.06 125.04,464.38 125.28,463.67 125.52,462.94 125.76,462.19 126,461.42 126.24,460.63 126.48,459.83 126.72,459.02 126.96,458.19 127.2,457.35 127.44,456.49 127.69,455.63 127.93,454.77 128.17,453.89 128.41,453.02 128.65,452.14 128.77,451.7 129.37,451.7 130.09,451.7 130.81,451.7 131.53,451.7 132.26,451.7 132.98,451.7 133.7,451.7 134.42,451.7 135.14,451.7 135.87,451.7 136.59,451.7 137.31,451.7 138.03,451.7 138.75,451.7 139.47,451.7 140.2,451.7 140.92,451.7 141.64,451.7 142.36,451.7 143.08,451.7 143.81,451.7 144.53,451.7 145.25,451.7 145.97,451.7 146.69,451.7 147.41,451.7 148.14,451.7 148.86,451.7 149.58,451.7 150.3,451.7 151.02,451.7 151.75,451.7 152.47,451.7 153.19,451.7 153.91,451.7 154.63,451.7 155.35,451.7 156.08,451.7 156.8,451.7 157.52,451.7 158.24,451.7 158.96,451.7 159.69,451.7 160.41,451.7 161.13,451.7 161.85,451.7 162.57,451.7 163.29,451.7 164.02,451.7 164.74,451.7 165.46,451.7 166.18,451.7 166.9,451.7 167.62,451.7 168.35,451.7 169.07,451.7 169.79,451.7 170.51,451.7 171.23,451.7 171.96,451.7 172.68,451.7 173.4,451.7 174.12,451.7 174.84,451.7 175.56,451.7 176.29,451.7 177.01,451.7 177.73,451.7 178.45,451.7 179.17,451.7 179.9,451.7 180.62,451.7 181.34,451.7 182.06,451.7 182.78,451.7 183.5,451.7 184.23,451.7 184.95,451.7 185.67,451.7 186.39,451.7 187.11,451.7 187.84,451.7 188.56,451.7 189.28,451.7 190,450.81 190.24,449.92 190.48,449.03 190.72,448.15 190.96,447.28 191.2,446.41 191.44,445.55 191.68,444.71 191.93,443.88 192.17,443.06 192.41,442.25 192.65,441.47 192.89,440.7 193.13,439.96 193.37,439.23 193.61,438.53 193.85,437.86 194.09,437.21 194.33,436.58 194.57,435.99 194.81,435.42 195.05,434.88 195.29,434.37 195.53,433.9 195.78,433.46 196.02,433.05 196.26,432.68 196.5,432.34 196.74,432.04 196.98,431.77 197.46,431.35 197.94,431.08 198.42,430.96 198.9,430.99 199.38,431.18 199.87,431.51 200.35,432 200.59,432.3 200.83,432.63 201.07,433 201.31,433.41 201.55,433.84 201.79,434.31 202.03,434.82 202.27,435.35 202.51,435.91 202.75,436.51 202.99,437.13 203.23,437.77 203.47,438.45 203.71,439.15 203.96,439.87 204.2,440.61 204.44,441.37 204.68,442.16 204.92,442.96 205.16,443.77 205.4,444.6 205.64,445.45 205.88,446.3 206.12,447.17 206.36,448.04 206.6,448.92 206.84,449.81 207.08,450.7 207.32,451.59 207.56,452.48 207.81,453.37 208.05,454.26 208.29,455.14 208.53,456.01 208.77,456.88 209.01,457.74 209.25,458.59 209.49,459.42 209.73,460.24 209.97,461.05 210.21,461.83 210.45,462.6 210.69,463.35 210.93,464.08 211.17,464.78 211.41,465.46 211.65,466.12 211.9,466.75 212.14,467.35 212.38,467.92 212.62,468.47 212.86,468.98 213.1,469.46 213.34,469.91 213.58,470.32 213.82,470.7 214.06,471.05 214.3,471.36 214.54,471.63 215.02,472.08 215.5,472.37 215.99,472.51 216.71,472.44 217.19,472.21 217.67,471.83 218.15,471.3 218.39,470.98 218.63,470.63 218.87,470.24 219.11,469.82 219.35,469.37 219.59,468.88 219.84,468.37 220.08,467.82 220.32,467.24 220.56,466.63 220.8,466 221.04,465.33 221.28,464.64 221.52,463.93 221.76,463.19 222,462.43 222.24,461.65 222.48,460.85 222.72,460.02 222.96,459.18 223.2,458.32 223.44,457.45 223.68,456.56 223.93,455.65 224.17,454.74 224.41,453.81 224.65,452.88 224.89,451.94 225.13,450.99 225.37,450.03 225.61,449.08 225.85,448.12 226.09,447.16 226.33,446.21 226.57,445.25 226.81,444.31 227.05,443.37 227.29,442.43 227.53,441.51 227.77,440.61 228.02,439.71 228.26,438.84 228.5,437.98 228.74,437.14 228.98,436.32 229.22,435.53 229.46,434.77 229.7,434.03 229.94,433.32 230.18,432.65 230.42,432.01 230.66,431.4 230.9,430.84 231.14,430.31 231.38,429.82 231.62,429.37 231.87,428.97 232.11,428.61 232.35,428.3 232.59,428.03 233.07,427.64 233.55,427.45 234.27,427.53 234.75,427.83 235.23,428.33 235.47,428.65 235.71,429.01 235.96,429.42 236.2,429.87 236.44,430.37 236.68,430.91 236.92,431.49 237.16,432.1 237.4,432.75 237.64,433.44 237.88,434.16 238.12,434.9 238.36,435.68 238.6,436.49 238.84,437.32 239.08,438.17 239.32,439.04 239.56,439.93 239.8,440.84 240.05,441.76 240.29,442.69 240.53,443.64 240.77,444.59 241.01,445.55 241.25,446.51 241.49,447.48 241.73,448.45 241.97,449.42 242.21,450.38 242.45,451.34 242.69,452.3 242.93,453.24 243.17,454.18 243.41,455.11 243.65,456.03 243.9,456.93 244.14,457.82 244.38,458.7 244.62,459.55 244.86,460.39 245.1,461.21 245.34,462.01 245.58,462.79 245.82,463.54 246.06,464.27 246.3,464.98 246.54,465.66 246.78,466.31 247.02,466.93 247.26,467.53 247.5,468.09 247.74,468.63 247.99,469.13 248.23,469.6 248.47,470.04 248.71,470.45 248.95,470.82 249.19,471.15 249.43,471.46 249.67,471.72 250.15,472.14 250.63,472.42 251.11,472.54 251.59,472.52 252.08,472.34 252.56,472.02 253.04,471.55 253.28,471.26 253.52,470.93 253.76,470.57 254,470.18 254.24,469.75 254.48,469.29 254.72,468.79 254.96,468.27 255.2,467.72 255.44,467.13 255.68,466.52 255.93,465.88 256.17,465.21 256.41,464.52 256.65,463.81 256.89,463.08 257.13,462.32 257.37,461.54 257.61,460.75 257.85,459.94 258.09,459.11 258.33,458.27 258.57,457.42 258.81,456.56 259.05,455.69 259.29,454.81 259.53,453.92 259.77,453.04 260.02,452.15 260.14,451.7 260.74,451.7 261.46,451.7 262.18,451.7 262.9,451.7 263.62,451.7 264.35,451.7 265.07,451.7 265.79,451.7 266.51,451.7 267.23,451.7 267.96,451.7 268.68,451.7 269.4,451.7 270.12,451.7 270.84,451.7 271.56,451.7 272.29,451.7 273.01,451.7 273.73,451.7 274.45,451.7 275.17,451.7 275.89,451.7 276.62,451.7 277.34,451.7 278.06,451.7 278.78,451.7 279.5,451.7 280.23,451.7 280.95,451.7 281.67,451.7 282.39,451.7 283.11,451.7 283.83,451.7 284.56,451.7 285.28,451.7 286,451.7 286.72,451.7 287.44,451.7 288.17,451.7 288.89,451.7 289.61,451.7 290.33,451.7 291.05,451.7 291.77,451.7 292.5,451.7 293.22,451.7 293.94,451.7 294.66,451.7 295.38,451.7 296.11,451.7 296.83,451.7 297.55,451.7 298.27,451.7 298.99,451.7 299.71,451.7 300.44,451.7 301.16,451.7 301.88,451.7 302.6,451.7 303.32,451.7 304.05,451.7 304.77,451.7 305.49,451.7 306.21,451.7 306.93,451.7 307.65,451.7 308.38,451.7 309.1,451.7 309.82,451.7 310.54,451.7 311.26,451.7 311.98,451.7 312.71,451.7 313.43,451.7 314.15,451.7 314.87,451.7 315.59,451.7 316.32,451.7 317.04,451.7 317.76,451.7 318.48,451.7 319.2,451.7 319.92,451.7 320.65,451.7 321.37,451.7 322.09,451.7 322.81,451.7 323.53,450.82 323.77,449.93 324.01,449.06 324.26,448.18 324.5,447.31 324.74,446.45 324.98,445.6 325.22,444.76 325.46,443.94 325.7,443.13 325.94,442.33 326.18,441.55 326.42,440.79 326.66,440.05 326.9,439.33 327.14,438.63 327.38,437.95 327.62,437.3 327.86,436.68 328.11,436.08 328.35,435.52 328.59,434.98 328.83,434.47 329.07,433.99 329.31,433.55 329.55,433.14 329.79,432.76 330.03,432.42 330.27,432.11 330.51,431.83 330.99,431.4 331.47,431.11 331.95,430.96 332.68,431.03 333.16,431.27 333.64,431.65 334.12,432.18 334.36,432.5 334.6,432.85 334.84,433.24 335.08,433.66 335.32,434.11 335.56,434.59 335.8,435.11 336.04,435.66 336.29,436.23 336.53,436.83 336.77,437.46 337.01,438.12 337.25,438.8 337.49,439.5 337.73,440.23 337.97,440.98 338.21,441.74 338.45,442.53 338.69,443.33 338.93,444.14 339.17,444.97 339.41,445.82 339.65,446.67 339.89,447.53 340.14,448.4 340.38,449.27 340.62,450.15 340.86,451.04 341.1,451.92 341.34,452.8 341.58,453.69 341.82,454.56 342.06,455.44 342.3,456.3 342.54,457.16 342.78,458.01 343.02,458.84 343.26,459.67 343.5,460.48 343.74,461.27 343.98,462.05 344.23,462.8 344.47,463.54 344.71,464.25 344.95,464.95 345.19,465.62 345.43,466.26 345.67,466.88 345.91,467.47 346.15,468.03 346.39,468.56 346.63,469.07 346.87,469.54 347.11,469.98 347.35,470.38 347.59,470.75 347.83,471.09 348.07,471.4 348.32,471.66 348.8,472.09 349.28,472.38 349.76,472.51 350.48,472.44 350.96,472.2 351.44,471.82 351.92,471.3 352.16,470.99 352.41,470.64 352.65,470.26 352.89,469.84 353.13,469.39 353.37,468.91 353.61,468.4 353.85,467.86 354.09,467.29 354.33,466.69 354.57,466.06 354.81,465.41 355.05,464.73 355.29,464.02 355.53,463.29 355.77,462.54 356.01,461.77 356.26,460.98 356.5,460.16 356.74,459.33 356.98,458.48 357.22,457.62 357.46,456.74 357.7,455.85 357.94,454.94 358.18,454.03 358.42,453.1 358.66,452.17 358.9,451.23 359.14,450.29 359.38,449.34 359.62,448.39 359.86,447.44 360.1,446.49 360.35,445.54 360.59,444.6 360.83,443.67 361.07,442.74 361.31,441.82 361.55,440.92 361.79,440.03 362.03,439.15 362.27,438.3 362.51,437.46 362.75,436.64 362.99,435.84 363.23,435.08 363.47,434.33 363.71,433.62 363.95,432.94 364.19,432.29 364.44,431.67 364.68,431.09 364.92,430.55 365.16,430.05 365.4,429.58 365.64,429.16 365.88,428.78 366.12,428.45 366.36,428.16 366.84,427.73 367.32,427.48 367.8,427.43 368.29,427.58 368.77,427.92 369.25,428.44 369.49,428.78 369.73,429.16 369.97,429.58 370.21,430.04 370.45,430.55 370.69,431.1 370.93,431.68 371.17,432.3 371.41,432.96 371.65,433.65 371.89,434.37 372.13,435.12 372.38,435.9 372.62,436.7 372.86,437.53 373.1,438.38 373.34,439.25 373.58,440.14 373.82,441.04 374.06,441.95 374.3,442.88 374.54,443.82 374.78,444.77 375.02,445.72 375.26,446.68 375.5,447.64 375.74,448.6 375.98,449.55 376.23,450.51 376.47,451.46 376.71,452.41 376.95,453.35 377.19,454.28 377.43,455.2 377.67,456.11 377.91,457 378.15,457.88 378.39,458.75 378.63,459.6 378.87,460.43 379.11,461.24 379.35,462.03 379.59,462.8 379.83,463.55 380.07,464.27 380.32,464.97 380.56,465.64 380.8,466.29 381.04,466.91 381.28,467.5 381.52,468.06 381.76,468.6 382,469.1 382.24,469.57 382.48,470.01 382.72,470.41 382.96,470.78 383.2,471.12 383.44,471.42 383.68,471.69 384.16,472.12 384.65,472.4 385.13,472.54 385.85,472.47 386.33,472.24 386.81,471.86 387.29,471.34 387.53,471.02 387.77,470.67 388.01,470.29 388.25,469.88 388.5,469.43 388.74,468.95 388.98,468.44 389.22,467.9 389.46,467.33 389.7,466.73 389.94,466.11 390.18,465.45 390.42,464.78 390.66,464.08 390.9,463.36 391.14,462.62 391.38,461.85 391.62,461.07 391.86,460.28 392.1,459.46 392.35,458.64 392.59,457.8 392.83,456.95 393.07,456.09 393.31,455.22 393.55,454.34 393.79,453.47 394.03,452.58 394.27,451.7 394.99,451.7 395.71,451.7 396.44,451.7 397.16,451.7 397.88,451.7 398.6,451.7 399.32,451.7 400.04,451.7 400.77,451.7 401.49,451.7 402.21,451.7 402.93,451.7 403.65,451.7 404.38,451.7 405.1,451.7 405.82,451.7 406.3,451.7" fill="none" stroke="#0072bd" stroke-width="2.3" stroke-linejoin="round"/>
<rect x="45.4" y="426.8" width="360.9" height="49.2" fill="none" stroke="#111" stroke-width="1.1"/>
<g fill="#d95319"><circle cx="45.4" cy="451.2" r="3.2"/><circle cx="54.42" cy="451.2" r="3.2"/><circle cx="63.45" cy="438" r="3.2"/><circle cx="72.47" cy="445.9" r="3.2"/><circle cx="81.49" cy="471" r="3.2"/><circle cx="90.51" cy="463.2" r="3.2"/><circle cx="99.53" cy="429.5" r="3.2"/><circle cx="108.56" cy="432.7" r="3.2"/><circle cx="117.58" cy="468.8" r="3.2"/><circle cx="126.6" cy="468.2" r="3.2"/><circle cx="135.62" cy="451.2" r="3.2"/><circle cx="144.65" cy="451.2" r="3.2"/><circle cx="153.67" cy="451.2" r="3.2"/><circle cx="162.69" cy="451.2" r="3.2"/><circle cx="171.72" cy="451.2" r="3.2"/><circle cx="180.74" cy="451.2" r="3.2"/><circle cx="189.76" cy="451.2" r="3.2"/><circle cx="198.78" cy="426.4" r="3.2"/><circle cx="207.81" cy="457.8" r="3.2"/><circle cx="216.83" cy="473.6" r="3.2"/><circle cx="225.85" cy="446.8" r="3.2"/><circle cx="234.87" cy="431.1" r="3.2"/><circle cx="243.9" cy="446.2" r="3.2"/><circle cx="252.92" cy="461" r="3.2"/><circle cx="261.94" cy="451.2" r="3.2"/><circle cx="270.96" cy="451.2" r="3.2"/><circle cx="279.99" cy="451.2" r="3.2"/><circle cx="289.01" cy="451.2" r="3.2"/><circle cx="298.03" cy="451.2" r="3.2"/><circle cx="307.05" cy="451.2" r="3.2"/><circle cx="316.07" cy="451.2" r="3.2"/><circle cx="325.1" cy="435.8" r="3.2"/><circle cx="334.12" cy="446.8" r="3.2"/><circle cx="343.14" cy="469.8" r="3.2"/><circle cx="352.16" cy="468.8" r="3.2"/><circle cx="361.19" cy="441.1" r="3.2"/><circle cx="370.21" cy="442.1" r="3.2"/><circle cx="379.23" cy="468.8" r="3.2"/><circle cx="388.25" cy="467.9" r="3.2"/><circle cx="397.28" cy="451.2" r="3.2"/><circle cx="406.3" cy="451.2" r="3.2"/></g>
<polyline points="45.4,508.5 46.12,508.5 46.84,508.5 47.57,508.5 48.29,508.5 49.01,508.5 49.73,508.5 50.45,508.5 51.17,508.5 51.9,508.5 52.62,508.5 53.34,508.5 54.06,508.5 54.78,508.5 55.51,508.5 56.23,508.5 56.95,508.5 57.67,509.09 57.91,509.68 58.15,510.27 58.39,510.86 58.63,511.44 58.87,512.03 59.11,512.61 59.35,513.19 59.6,513.77 59.84,514.34 60.08,514.91 60.32,515.48 60.56,516.04 60.8,516.59 61.04,517.15 61.28,517.69 61.52,518.23 61.76,518.76 62,519.29 62.24,519.81 62.48,520.33 62.72,520.83 62.96,521.33 63.2,521.82 63.45,522.3 63.69,522.77 63.93,523.23 64.17,523.69 64.41,524.13 64.65,524.57 64.89,524.99 65.13,525.4 65.37,525.81 65.61,526.2 65.85,526.58 66.09,526.95 66.33,527.31 66.57,527.65 66.81,527.98 67.05,528.3 67.29,528.61 67.54,528.91 67.78,529.19 68.02,529.46 68.5,529.96 68.98,530.4 69.46,530.79 69.94,531.12 70.42,531.39 70.9,531.61 71.38,531.76 71.87,531.86 72.35,531.9 73.07,531.85 73.55,531.76 74.03,531.62 74.51,531.43 74.99,531.19 75.47,530.9 75.96,530.57 76.44,530.18 76.92,529.75 77.4,529.28 77.88,528.76 78.12,528.49 78.36,528.2 78.6,527.91 78.84,527.6 79.08,527.29 79.32,526.96 79.57,526.62 79.81,526.28 80.05,525.92 80.29,525.56 80.53,525.18 80.77,524.8 81.01,524.41 81.25,524.01 81.49,523.6 81.73,523.19 81.97,522.76 82.21,522.33 82.45,521.9 82.69,521.45 82.93,521 83.17,520.54 83.41,520.07 83.66,519.6 83.9,519.12 84.14,518.64 84.38,518.15 84.62,517.66 84.86,517.16 85.1,516.66 85.34,516.15 85.58,515.64 85.82,515.12 86.06,514.61 86.3,514.08 86.54,513.56 86.78,513.03 87.02,512.5 87.26,511.97 87.5,511.44 87.75,510.9 87.99,510.36 88.23,509.83 88.47,509.29 88.71,508.75 88.95,508.3 89.19,507.94 89.43,507.57 89.67,507.21 89.91,506.85 90.15,506.48 90.39,506.12 90.63,505.76 90.87,505.4 91.11,505.03 91.35,504.67 91.6,504.32 91.84,503.96 92.08,503.6 92.32,503.24 92.56,502.89 92.8,502.54 93.04,502.18 93.28,501.83 93.52,501.49 93.76,501.14 94,500.79 94.24,500.45 94.48,500.11 94.72,499.77 94.96,499.43 95.2,499.1 95.44,498.76 95.69,498.43 95.93,498.11 96.17,497.78 96.41,497.46 96.65,497.14 96.89,496.82 97.13,496.51 97.37,496.19 97.61,495.89 97.85,495.58 98.09,495.28 98.33,494.98 98.57,494.68 98.81,494.39 99.05,494.1 99.29,493.81 99.53,493.53 99.78,493.25 100.02,492.98 100.26,492.71 100.5,492.44 100.74,492.18 101.22,491.66 101.7,491.17 102.18,490.68 102.66,490.22 103.14,489.77 103.63,489.35 104.11,488.94 104.59,488.55 105.07,488.17 105.55,487.82 106.03,487.49 106.51,487.18 106.99,486.89 107.47,486.62 107.96,486.37 108.44,486.15 108.92,485.94 109.4,485.76 109.88,485.6 110.36,485.46 110.84,485.34 111.32,485.25 111.81,485.18 112.29,485.13 112.77,485.1 113.49,485.11 113.97,485.14 114.45,485.19 114.93,485.26 115.41,485.35 115.9,485.47 116.38,485.61 116.86,485.76 117.34,485.94 117.82,486.14 118.3,486.36 118.78,486.6 119.26,486.86 119.75,487.14 120.23,487.44 120.71,487.76 121.19,488.1 121.67,488.45 122.15,488.83 122.63,489.22 123.11,489.63 123.59,490.06 124.08,490.51 124.56,490.97 125.04,491.45 125.52,491.94 126,492.45 126.24,492.71 126.48,492.98 126.72,493.24 126.96,493.52 127.2,493.79 127.44,494.07 127.69,494.35 127.93,494.63 128.17,494.92 128.41,495.21 128.65,495.5 128.78,508.5 129.37,508.5 130.09,508.5 130.81,508.5 131.53,508.5 132.26,508.5 132.98,508.5 133.7,508.5 134.42,508.5 135.14,508.5 135.87,508.5 136.59,508.5 137.31,508.5 138.03,508.5 138.75,508.5 139.47,508.5 140.2,508.5 140.92,508.5 141.64,508.5 142.36,508.5 143.08,508.5 143.81,508.5 144.53,508.5 145.25,508.5 145.97,508.5 146.69,508.5 147.41,508.5 148.14,508.5 148.86,508.5 149.58,508.5 150.3,508.5 151.02,508.5 151.75,508.5 152.47,508.5 153.19,508.5 153.91,508.5 154.63,508.5 155.35,508.5 156.08,508.5 156.8,508.5 157.52,508.5 158.24,508.5 158.96,508.5 159.69,508.5 160.41,508.5 161.13,508.5 161.85,508.5 162.57,508.5 163.29,508.5 164.02,508.5 164.74,508.5 165.46,508.5 166.18,508.5 166.9,508.5 167.62,508.5 168.35,508.5 169.07,508.5 169.79,508.5 170.51,508.5 171.23,508.5 171.96,508.5 172.68,508.5 173.4,508.5 174.12,508.5 174.84,508.5 175.56,508.5 176.29,508.5 177.01,508.5 177.73,508.5 178.45,508.5 179.17,508.5 179.9,508.5 180.62,508.5 181.34,508.5 182.06,508.5 182.78,508.5 183.5,508.5 184.23,508.5 184.95,508.5 185.67,508.5 186.39,508.5 187.11,508.5 187.84,508.5 188.56,508.5 189.28,508.5 190,508 190.24,507.49 190.48,506.99 190.72,506.49 190.96,505.99 191.2,505.49 191.44,504.99 191.68,504.5 191.93,504 192.17,503.51 192.41,503.02 192.65,502.53 192.89,502.05 193.13,501.57 193.37,501.09 193.61,500.61 193.85,500.14 194.09,499.68 194.33,499.21 194.57,498.75 194.81,498.3 195.05,497.85 195.29,497.4 195.53,496.96 195.78,496.53 196.02,496.1 196.26,495.68 196.5,495.26 196.74,494.85 196.98,494.44 197.22,494.04 197.46,493.65 197.7,493.27 197.94,492.89 198.18,492.52 198.42,492.15 198.66,491.8 198.9,491.45 199.14,491.11 199.38,490.78 199.62,490.45 199.87,490.14 200.11,489.83 200.35,489.53 200.59,489.24 200.83,488.96 201.07,488.69 201.31,488.43 201.79,487.93 202.27,487.47 202.75,487.05 203.23,486.67 203.71,486.32 204.2,486.02 204.68,485.77 205.16,485.55 205.64,485.37 206.12,485.24 206.6,485.15 207.08,485.11 207.81,485.12 208.29,485.18 208.77,485.29 209.25,485.43 209.73,485.62 210.21,485.86 210.69,486.13 211.17,486.45 211.65,486.8 212.14,487.2 212.62,487.64 213.1,488.11 213.58,488.62 213.82,488.89 214.06,489.17 214.3,489.46 214.54,489.76 214.78,490.06 215.02,490.37 215.26,490.7 215.5,491.03 215.74,491.36 215.99,491.71 216.23,492.07 216.47,492.43 216.71,492.8 216.95,493.17 217.19,493.56 217.43,493.95 217.67,494.34 217.91,494.75 218.15,495.16 218.39,495.57 218.63,495.99 218.87,496.42 219.11,496.85 219.35,497.29 219.59,497.74 219.84,498.19 220.08,498.64 220.32,499.1 220.56,499.56 220.8,500.03 221.04,500.5 221.28,500.97 221.52,501.45 221.76,501.93 222,502.41 222.24,502.9 222.48,503.39 222.72,503.88 222.96,504.37 223.2,504.87 223.44,505.37 223.68,505.87 223.93,506.37 224.17,506.87 224.41,507.37 224.65,507.87 224.89,508.37 225.13,508.88 225.37,509.38 225.61,509.88 225.85,510.38 226.09,510.88 226.33,511.38 226.57,511.88 226.81,512.38 227.05,512.87 227.29,513.37 227.53,513.86 227.77,514.34 228.02,514.83 228.26,515.31 228.5,515.79 228.74,516.27 228.98,516.74 229.22,517.21 229.46,517.67 229.7,518.13 229.94,518.59 230.18,519.04 230.42,519.49 230.66,519.93 230.9,520.36 231.14,520.79 231.38,521.22 231.62,521.64 231.87,522.05 232.11,522.46 232.35,522.86 232.59,523.25 232.83,523.64 233.07,524.02 233.31,524.39 233.55,524.76 233.79,525.11 234.03,525.46 234.27,525.81 234.51,526.14 234.75,526.47 234.99,526.78 235.23,527.09 235.47,527.39 235.71,527.69 235.96,527.97 236.2,528.24 236.44,528.51 236.92,529.01 237.4,529.48 237.88,529.9 238.36,530.29 238.84,530.64 239.32,530.94 239.8,531.2 240.29,531.43 240.77,531.61 241.25,531.74 241.73,531.84 242.21,531.89 242.93,531.89 243.41,531.83 243.9,531.73 244.38,531.59 244.86,531.4 245.34,531.17 245.82,530.9 246.3,530.59 246.78,530.24 247.26,529.85 247.74,529.42 248.23,528.95 248.71,528.44 248.95,528.18 249.19,527.9 249.43,527.61 249.67,527.32 249.91,527.02 250.15,526.7 250.39,526.38 250.63,526.06 250.87,525.72 251.11,525.38 251.35,525.02 251.59,524.66 251.83,524.3 252.08,523.92 252.32,523.54 252.56,523.15 252.8,522.76 253.04,522.36 253.28,521.95 253.52,521.53 253.76,521.11 254,520.69 254.24,520.25 254.48,519.82 254.72,519.37 254.96,518.93 255.2,518.47 255.44,518.02 255.68,517.56 255.93,517.09 256.17,516.62 256.41,516.15 256.65,515.67 256.89,515.19 257.13,514.71 257.37,514.22 257.61,513.73 257.85,513.24 258.09,512.75 258.33,512.25 258.57,511.76 258.81,511.26 259.05,510.76 259.29,510.26 259.53,509.76 259.77,509.25 260.02,508.75 260.5,508.5 261.22,508.5 261.94,508.5 262.66,508.5 263.38,508.5 264.11,508.5 264.83,508.5 265.55,508.5 266.27,508.5 266.99,508.5 267.71,508.5 268.44,508.5 269.16,508.5 269.88,508.5 270.6,508.5 271.32,508.5 272.05,508.5 272.77,508.5 273.49,508.5 274.21,508.5 274.93,508.5 275.65,508.5 276.38,508.5 277.1,508.5 277.82,508.5 278.54,508.5 279.26,508.5 279.99,508.5 280.71,508.5 281.43,508.5 282.15,508.5 282.87,508.5 283.59,508.5 284.32,508.5 285.04,508.5 285.76,508.5 286.48,508.5 287.2,508.5 287.92,508.5 288.65,508.5 289.37,508.5 290.09,508.5 290.81,508.5 291.53,508.5 292.26,508.5 292.98,508.5 293.7,508.5 294.42,508.5 295.14,508.5 295.86,508.5 296.59,508.5 297.31,508.5 298.03,508.5 298.75,508.5 299.47,508.5 300.2,508.5 300.92,508.5 301.64,508.5 302.36,508.5 303.08,508.5 303.8,508.5 304.53,508.5 305.25,508.5 305.97,508.5 306.69,508.5 307.41,508.5 308.14,508.5 308.86,508.5 309.58,508.5 310.3,508.5 311.02,508.5 311.74,508.5 312.47,508.5 313.19,508.5 313.91,508.5 314.63,508.5 315.35,508.5 316.07,508.5 316.8,508.5 317.52,508.5 318.24,508.5 318.96,508.5 319.68,508.5 320.41,508.5 321.13,508.5 321.85,508.5 322.57,508.5 323.28,508.5 323.53,509 323.77,509.5 324.01,509.99 324.26,510.49 324.5,510.99 324.74,511.48 324.98,511.98 325.22,512.47 325.46,512.96 325.7,513.45 325.94,513.93 326.18,514.42 326.42,514.9 326.66,515.37 326.9,515.85 327.14,516.32 327.38,516.79 327.62,517.25 327.86,517.71 328.11,518.17 328.35,518.62 328.59,519.07 328.83,519.51 329.07,519.95 329.31,520.38 329.55,520.81 329.79,521.23 330.03,521.64 330.27,522.05 330.51,522.45 330.75,522.85 330.99,523.24 331.23,523.63 331.47,524 331.71,524.37 331.95,524.74 332.2,525.09 332.44,525.44 332.68,525.78 332.92,526.11 333.16,526.43 333.4,526.75 333.64,527.06 333.88,527.36 334.12,527.65 334.36,527.93 334.6,528.2 334.84,528.47 335.32,528.97 335.8,529.43 336.29,529.86 336.77,530.25 337.25,530.6 337.73,530.9 338.21,531.17 338.69,531.4 339.17,531.58 339.65,531.72 340.14,531.83 340.62,531.88 341.34,531.89 341.82,531.84 342.3,531.75 342.78,531.62 343.26,531.45 343.74,531.23 344.23,530.97 344.71,530.68 345.19,530.34 345.67,529.96 346.15,529.54 346.63,529.09 347.11,528.6 347.35,528.34 347.59,528.07 347.83,527.79 348.07,527.5 348.32,527.21 348.56,526.91 348.8,526.59 349.04,526.27 349.28,525.95 349.52,525.61 349.76,525.27 350,524.91 350.24,524.55 350.48,524.19 350.72,523.82 350.96,523.43 351.2,523.05 351.44,522.65 351.68,522.25 351.92,521.85 352.16,521.44 352.41,521.02 352.65,520.59 352.89,520.16 353.13,519.73 353.37,519.29 353.61,518.84 353.85,518.4 354.09,517.94 354.33,517.48 354.57,517.02 354.81,516.56 355.05,516.09 355.29,515.61 355.53,515.14 355.77,514.66 356.01,514.17 356.26,513.69 356.5,513.2 356.74,512.71 356.98,512.22 357.22,511.73 357.46,511.23 357.7,510.74 357.94,510.24 358.18,509.75 358.42,509.25 358.66,508.75 358.9,508.25 359.14,507.75 359.38,507.25 359.62,506.76 359.86,506.26 360.1,505.77 360.35,505.27 360.59,504.78 360.83,504.29 361.07,503.8 361.31,503.31 361.55,502.83 361.79,502.34 362.03,501.86 362.27,501.39 362.51,500.91 362.75,500.44 362.99,499.98 363.23,499.52 363.47,499.06 363.71,498.6 363.95,498.16 364.19,497.71 364.44,497.27 364.68,496.84 364.92,496.41 365.16,495.98 365.4,495.56 365.64,495.15 365.88,494.75 366.12,494.35 366.36,493.95 366.6,493.57 366.84,493.18 367.08,492.81 367.32,492.45 367.56,492.09 367.8,491.73 368.04,491.39 368.29,491.05 368.53,490.73 368.77,490.41 369.01,490.09 369.25,489.79 369.49,489.5 369.73,489.21 369.97,488.93 370.21,488.66 370.45,488.4 370.93,487.91 371.41,487.46 371.89,487.04 372.38,486.66 372.86,486.32 373.34,486.03 373.82,485.77 374.3,485.55 374.78,485.38 375.26,485.25 375.74,485.16 376.23,485.11 376.95,485.12 377.43,485.17 377.91,485.28 378.39,485.42 378.87,485.6 379.35,485.83 379.83,486.1 380.32,486.4 380.8,486.75 381.28,487.14 381.76,487.57 382.24,488.03 382.72,488.53 382.96,488.8 383.2,489.07 383.44,489.35 383.68,489.64 383.92,489.94 384.16,490.25 384.41,490.57 384.65,490.89 384.89,491.22 385.13,491.56 385.37,491.91 385.61,492.26 385.85,492.63 386.09,493 386.33,493.37 386.57,493.76 386.81,494.15 387.05,494.55 387.29,494.95 387.53,495.36 387.77,495.77 388.01,496.19 388.25,496.62 388.5,497.05 388.74,497.49 388.98,497.93 389.22,498.38 389.46,498.83 389.7,499.29 389.94,499.75 390.18,500.21 390.42,500.68 390.66,501.15 390.9,501.63 391.14,502.1 391.38,502.58 391.62,503.07 391.86,503.55 392.1,504.04 392.35,504.53 392.59,505.02 392.83,505.52 393.07,506.01 393.31,506.51 393.55,507.01 393.79,507.5 394.03,508 394.27,508.5 394.99,508.5 395.71,508.5 396.44,508.5 397.16,508.5 397.88,508.5 398.6,508.5 399.32,508.5 400.04,508.5 400.77,508.5 401.49,508.5 402.21,508.5 402.93,508.5 403.65,508.5 404.38,508.5 405.1,508.5 405.82,508.5 406.3,508.5" fill="none" stroke="#0072bd" stroke-width="2.3" stroke-linejoin="round"/>
<rect x="45.4" y="483.0" width="360.9" height="50.3" fill="none" stroke="#111" stroke-width="1.1"/>
<g fill="#d95319"><circle cx="45.4" cy="508.3" r="3.2"/><circle cx="54.42" cy="508.3" r="3.2"/><circle cx="63.45" cy="519.2" r="3.2"/><circle cx="72.47" cy="531.8" r="3.2"/><circle cx="81.49" cy="526.4" r="3.2"/><circle cx="90.51" cy="508.8" r="3.2"/><circle cx="99.53" cy="495.6" r="3.2"/><circle cx="108.56" cy="485.5" r="3.2"/><circle cx="117.58" cy="485.5" r="3.2"/><circle cx="126.6" cy="493.4" r="3.2"/><circle cx="135.62" cy="508.3" r="3.2"/><circle cx="144.65" cy="508.3" r="3.2"/><circle cx="153.67" cy="508.3" r="3.2"/><circle cx="162.69" cy="508.3" r="3.2"/><circle cx="171.72" cy="508.3" r="3.2"/><circle cx="180.74" cy="508.3" r="3.2"/><circle cx="189.76" cy="508.3" r="3.2"/><circle cx="198.78" cy="492.4" r="3.2"/><circle cx="207.81" cy="484.6" r="3.2"/><circle cx="216.83" cy="491.8" r="3.2"/><circle cx="225.85" cy="508.8" r="3.2"/><circle cx="234.87" cy="523.3" r="3.2"/><circle cx="243.9" cy="531.8" r="3.2"/><circle cx="252.92" cy="523.9" r="3.2"/><circle cx="261.94" cy="508.3" r="3.2"/><circle cx="270.96" cy="508.3" r="3.2"/><circle cx="279.99" cy="508.3" r="3.2"/><circle cx="289.01" cy="508.3" r="3.2"/><circle cx="298.03" cy="508.3" r="3.2"/><circle cx="307.05" cy="508.3" r="3.2"/><circle cx="316.07" cy="508.3" r="3.2"/><circle cx="325.1" cy="519.2" r="3.2"/><circle cx="334.12" cy="531.1" r="3.2"/><circle cx="343.14" cy="527.7" r="3.2"/><circle cx="352.16" cy="514.5" r="3.2"/><circle cx="361.19" cy="495" r="3.2"/><circle cx="370.21" cy="484.6" r="3.2"/><circle cx="379.23" cy="486.1" r="3.2"/><circle cx="388.25" cy="495" r="3.2"/><circle cx="397.28" cy="508.3" r="3.2"/><circle cx="406.3" cy="508.3" r="3.2"/></g>
<text class="t9" x="39.6" y="377.1" text-anchor="end">1</text><text class="t9" x="39.6" y="399.1" text-anchor="end">0.5</text><text class="t9" x="39.6" y="422.7" text-anchor="end">0</text><text class="t9" x="39.6" y="435.7" text-anchor="end">0.5</text><text class="t9" x="39.6" y="455.6" text-anchor="end">0</text><text class="t9" x="39.6" y="475.3" text-anchor="end">−0.5</text><text class="t9" x="39.6" y="490.2" text-anchor="end">1</text><text class="t9" x="39.6" y="512.4" text-anchor="end">0</text><text class="t9" x="39.6" y="535.2" text-anchor="end">−1</text>
<path d="M45.4,396.9h3 M45.4,431.2h3 M45.4,472.2h3 M225.8,420.7v-2.5 M225.8,476v-2.5 M225.8,533.3v-2.5" stroke="#111" stroke-width="0.6" fill="none"/>
<text class="t9" transform="translate(6.6,395) rotate(-90)" text-anchor="middle">S<tspan dy="2.4" style="font-size:6.3px">1</tspan></text><text class="t9" transform="translate(6.6,452) rotate(-90)" text-anchor="middle">S<tspan dy="2.4" style="font-size:6.3px">2</tspan></text><text class="t9" transform="translate(6.6,508) rotate(-90)" text-anchor="middle">S<tspan dy="2.4" style="font-size:6.3px">3</tspan></text>
<text class="t9" x="45.6" y="544.2" text-anchor="middle">0</text><text class="t9" x="225.6" y="544.2" text-anchor="middle">1.5</text><text class="t9" x="404" y="544.2" text-anchor="middle">3</text>
<text class="t9" x="226" y="553.6" text-anchor="middle">z (mm)</text>
<rect x="413.8" y="392" width="19.8" height="130.5" fill="#fff" stroke="#111" stroke-width="1" stroke-dasharray="1 1.1"/>
<text class="t9" transform="translate(426.6,415.5) rotate(-90)" text-anchor="middle" style="font-size:9.6px">Exp.</text>
<circle cx="423.2" cy="437.8" r="3.1" fill="#d95319"/>
<text class="t9" transform="translate(426.6,478) rotate(-90)" text-anchor="middle" style="font-size:9.6px">Target</text>
<line x1="423.2" y1="498" x2="423.2" y2="518.5" stroke="#0072bd" stroke-width="2"/>
<defs>
<radialGradient id="sph" gradientUnits="userSpaceOnUse" cx="535.7" cy="471.2" r="85.5"><stop offset="0" stop-color="#ffffff"/><stop offset="0.6" stop-color="#f8fbff"/><stop offset="0.85" stop-color="#eaf1fd"/><stop offset="1" stop-color="#d6e4fb"/></radialGradient>
<linearGradient id="sphT" gradientUnits="userSpaceOnUse" x1="0" y1="387.7" x2="0" y2="538.7"><stop offset="0" stop-color="#7aacf4" stop-opacity="1"/><stop offset="0.15" stop-color="#94bdf6" stop-opacity="0.75"/><stop offset="0.36" stop-color="#b8d3fa" stop-opacity="0.3"/><stop offset="0.52" stop-color="#fff" stop-opacity="0"/><stop offset="0.7" stop-color="#b8d2f9" stop-opacity="0.12"/><stop offset="0.86" stop-color="#a0c3f8" stop-opacity="0.6"/><stop offset="1" stop-color="#86b2f5" stop-opacity="1"/></linearGradient>
<linearGradient id="sphH" gradientUnits="userSpaceOnUse" x1="466.20000000000005" y1="0" x2="617.2" y2="0"><stop offset="0" stop-color="#fff" stop-opacity="0.4"/><stop offset="0.22" stop-color="#fff" stop-opacity="0.08"/><stop offset="0.4" stop-color="#fff" stop-opacity="0"/><stop offset="0.68" stop-color="#fff" stop-opacity="0"/><stop offset="0.86" stop-color="#fff" stop-opacity="0.45"/><stop offset="1" stop-color="#fff" stop-opacity="0.85"/></linearGradient>
<clipPath id="cpS"><circle cx="541.7" cy="463.2" r="75.5"/></clipPath>
<clipPath id="cpUp"><rect x="440" y="380" width="245" height="82.7"/></clipPath>
<clipPath id="cpDn"><rect x="440" y="462.7" width="245" height="100"/></clipPath>
</defs>
<circle cx="541.7" cy="463.2" r="75.5" fill="url(#sph)"/>
<circle cx="541.7" cy="463.2" r="75.5" fill="url(#sphT)"/>
<circle cx="541.7" cy="463.2" r="75.5" fill="url(#sphH)"/>
<ellipse cx="541.5" cy="462.7" rx="76.3" ry="19.8" fill="none" stroke="#4f9bd2" stroke-width="0.8" stroke-dasharray="3 2.4" clip-path="url(#cpUp)"/>
<ellipse cx="541.5" cy="462.7" rx="76.3" ry="19.8" fill="none" stroke="#4f9bd2" stroke-width="0.9" clip-path="url(#cpDn)"/>
<clipPath id="cpMd"><rect x="440" y="447" width="245" height="110"/></clipPath><g transform="rotate(-6.6 541.7 463.2)"><path d="M541.7,387.7 A63.1,75.5 0 0 0 541.7,538.7" fill="none" stroke="#3d8fc8" stroke-width="0.9"/></g><g clip-path="url(#cpMd)"><g transform="rotate(-6.6 541.7 463.2)"><path d="M541.7,387.7 A63.1,75.5 0 0 1 541.7,538.7" fill="none" stroke="#4f9bd2" stroke-width="0.8" stroke-dasharray="3 2.4"/></g></g>
<line x1="541.7" y1="463" x2="541.62" y2="388.37" stroke="#000" stroke-width="1.2"/><line x1="541.62" y1="388.37" x2="541.61" y2="370.8" stroke="#000" stroke-width="1.9"/><polygon points="541.6,364.8 545.81,373.4 537.41,373.4" fill="#000"/>
<line x1="541.7" y1="463" x2="601.65" y2="451.9" stroke="#000" stroke-width="1.2"/><line x1="601.65" y1="451.9" x2="632.5" y2="446.19" stroke="#000" stroke-width="1.9"/><polygon points="638.4,445.1 630.71,450.8 629.18,442.54" fill="#000"/>
<line x1="541.7" y1="463" x2="587.35" y2="479.41" stroke="#000" stroke-width="1.2"/><line x1="587.35" y1="479.41" x2="614.75" y2="489.27" stroke="#000" stroke-width="1.9"/><polygon points="620.4,491.3 610.89,492.34 613.73,484.44" fill="#000"/>
<g fill="none" stroke-width="2.3" stroke-linecap="round"><polyline points="585.8,479.6 586.22,480.09 586.76,480.72" stroke="#2b1569"/><polyline points="586.76,480.72 587.4,481.47 588.12,482.31" stroke="#2b176d"/><polyline points="588.12,482.31 588.9,483.22 589.7,484.18" stroke="#2c1871"/><polyline points="589.7,484.18 590.51,485.14 591.3,486.1" stroke="#2c1b76"/><polyline points="591.3,486.1 592.11,487.08 592.99,488.1" stroke="#2d1d7b"/><polyline points="592.99,488.1 593.9,489.18 594.82,490.28" stroke="#2e1f81"/><polyline points="594.82,490.28 595.73,491.39 596.6,492.51" stroke="#2e2187"/><polyline points="596.6,492.51 597.4,493.62 598.1,494.7" stroke="#2f248c"/><polyline points="598.1,494.7 598.73,495.78 599.32,496.86" stroke="#302691"/><polyline points="599.32,496.86 599.87,497.95 600.36,499.03" stroke="#302896"/><polyline points="600.36,499.03 600.79,500.1 601.15,501.16" stroke="#312a9b"/><polyline points="601.15,501.16 601.42,502.2 601.6,503.2" stroke="#312b9f"/><polyline points="601.6,503.2 601.68,504.17 601.68,505.12" stroke="#322fa4"/><polyline points="601.68,505.12 601.59,506.05 601.43,506.96" stroke="#3332a9"/><polyline points="601.43,506.96 601.2,507.86 600.92,508.75" stroke="#3435ad"/><polyline points="600.92,508.75 600.58,509.62 600.2,510.5" stroke="#3539b1"/><polyline points="600.2,510.5 599.78,511.37 599.3,512.22" stroke="#363cb6"/><polyline points="599.3,512.22 598.77,513.07 598.18,513.9" stroke="#363fba"/><polyline points="598.18,513.9 597.53,514.73 596.82,515.55" stroke="#3743bf"/><polyline points="596.82,515.55 596.05,516.38 595.2,517.2" stroke="#3847c4"/><polyline points="595.2,517.2 594.28,518.03 593.28,518.87" stroke="#394bca"/><polyline points="593.28,518.87 592.21,519.71 591.08,520.54" stroke="#3b50d0"/><polyline points="591.08,520.54 589.9,521.37 588.67,522.17" stroke="#3c54d6"/><polyline points="588.67,522.17 587.4,522.95 586.1,523.7" stroke="#3d59d9"/><polyline points="586.1,523.7 584.75,524.43 583.33,525.14" stroke="#3e5ddb"/><polyline points="583.33,525.14 581.86,525.83 580.36,526.5" stroke="#3f62de"/><polyline points="580.36,526.5 578.82,527.15 577.28,527.76" stroke="#4066e1"/><polyline points="577.28,527.76 575.73,528.35 574.2,528.9" stroke="#416be4"/><polyline points="574.2,528.9 572.68,529.41 571.17,529.87" stroke="#4370e7"/><polyline points="571.17,529.87 569.65,530.29 568.12,530.69" stroke="#4474e9"/><polyline points="568.12,530.69 566.57,531.07 565.01,531.44" stroke="#4579ec"/><polyline points="565.01,531.44 563.42,531.81 561.8,532.2" stroke="#467eee"/><polyline points="561.8,532.2 560.13,532.6 558.41,532.99" stroke="#4783ef"/><polyline points="558.41,532.99 556.65,533.39 554.88,533.78" stroke="#4889f0"/><polyline points="554.88,533.78 553.1,534.15 551.36,534.52" stroke="#498ef2"/><polyline points="551.36,534.52 549.65,534.87 548,535.2" stroke="#4a94f3"/><polyline points="548,535.2 546.39,535.52 544.79,535.83" stroke="#4a99f4"/><polyline points="544.79,535.83 543.21,536.13 541.67,536.42" stroke="#4b9ef5"/><polyline points="541.67,536.42 540.16,536.68 538.71,536.92" stroke="#4aa6f4"/><polyline points="538.71,536.92 537.32,537.13 536,537.3" stroke="#48aff2"/><polyline points="536,537.3 534.74,537.44 533.52,537.56" stroke="#47b6f0"/><polyline points="533.52,537.56 532.35,537.65 531.24,537.72" stroke="#45bdee"/><polyline points="531.24,537.72 530.2,537.75 529.22,537.74" stroke="#44c4ec"/><polyline points="529.22,537.74 528.32,537.69 527.5,537.6" stroke="#42c9eb"/><polyline points="527.5,537.6 526.75,537.46 526.05,537.27" stroke="#41ceea"/><polyline points="526.05,537.27 525.42,537.03 524.87,536.76" stroke="#40d2e9"/><polyline points="524.87,536.76 524.4,536.46 524.02,536.13" stroke="#40d6e8"/><polyline points="524.02,536.13 523.75,535.77 523.6,535.4" stroke="#3fd7e5"/><polyline points="523.6,535.4 523.57,535 523.67,534.57" stroke="#3fd9e2"/><polyline points="523.67,534.57 523.88,534.11 524.19,533.62" stroke="#3fdade"/><polyline points="524.19,533.62 524.57,533.11 525.01,532.59" stroke="#3fdcda"/><polyline points="525.01,532.59 525.49,532.05 526,531.5" stroke="#3fddd5"/><polyline points="526,531.5 526.53,530.97 527.09,530.46" stroke="#3fdfcf"/><polyline points="527.09,530.46 527.69,529.96 528.35,529.43" stroke="#3fe2ca"/><polyline points="528.35,529.43 529.09,528.85 529.91,528.21" stroke="#3ee4c3"/><polyline points="529.91,528.21 530.85,527.46 531.9,526.6" stroke="#3ee7bb"/><polyline points="531.9,526.6 533.1,525.6 534.43,524.47" stroke="#3eebb0"/><polyline points="534.43,524.47 535.88,523.24 537.42,521.94" stroke="#3ef0a4"/><polyline points="537.42,521.94 539.01,520.6 540.64,519.25" stroke="#42f09c"/><polyline points="540.64,519.25 542.28,517.9 543.9,516.6" stroke="#46f093"/><polyline points="543.9,516.6 545.53,515.32 547.21,514.04" stroke="#4bf08b"/><polyline points="547.21,514.04 548.93,512.74 550.67,511.44" stroke="#4ff082"/><polyline points="550.67,511.44 552.41,510.14 554.14,508.83" stroke="#53f179"/><polyline points="554.14,508.83 555.84,507.52 557.5,506.2" stroke="#58f170"/><polyline points="557.5,506.2 559.14,504.86 560.8,503.49" stroke="#5cf168"/><polyline points="560.8,503.49 562.44,502.1 564.07,500.71" stroke="#61f15f"/><polyline points="564.07,500.71 565.65,499.34 567.18,498.01" stroke="#65f258"/><polyline points="567.18,498.01 568.64,496.72 570,495.5" stroke="#69f256"/><polyline points="570,495.5 571.26,494.35 572.43,493.26" stroke="#6df253"/><polyline points="572.43,493.26 573.53,492.22 574.57,491.21" stroke="#71f251"/><polyline points="574.57,491.21 575.58,490.23 576.55,489.26" stroke="#74f24f"/><polyline points="576.55,489.26 577.52,488.28 578.5,487.3" stroke="#77f24d"/><polyline points="578.5,487.3 579.48,486.32 580.46,485.36" stroke="#7af24b"/><polyline points="580.46,485.36 581.42,484.42 582.36,483.48" stroke="#7df249"/><polyline points="582.36,483.48 583.27,482.53 584.15,481.58" stroke="#80f247"/><polyline points="584.15,481.58 585,480.6 585.8,479.6" stroke="#82f245"/><polyline points="585.8,479.6 586.56,478.57 587.27,477.53" stroke="#85f244"/><polyline points="587.27,477.53 587.95,476.48 588.59,475.41" stroke="#88f242"/><polyline points="588.59,475.41 589.22,474.33 589.82,473.23" stroke="#8bf240"/><polyline points="589.82,473.23 590.41,472.12 591,471" stroke="#8df13f"/><polyline points="591,471 591.58,469.86 592.14,468.71" stroke="#91f13e"/><polyline points="592.14,468.71 592.68,467.55 593.21,466.37" stroke="#94f13d"/><polyline points="593.21,466.37 593.73,465.18 594.23,463.97" stroke="#97f03c"/><polyline points="594.23,463.97 594.72,462.74 595.2,461.5" stroke="#9af03b"/><polyline points="595.2,461.5 595.67,460.23 596.12,458.93" stroke="#9df03a"/><polyline points="596.12,458.93 596.56,457.61 596.99,456.28" stroke="#a1ef39"/><polyline points="596.99,456.28 597.4,454.94 597.81,453.61" stroke="#a4ef39"/><polyline points="597.81,453.61 598.21,452.3 598.6,451" stroke="#a7ef38"/><polyline points="598.6,451 598.99,449.72 599.39,448.44" stroke="#abee37"/><polyline points="599.39,448.44 599.78,447.17 600.16,445.91" stroke="#aeee36"/><polyline points="600.16,445.91 600.52,444.66 600.85,443.43" stroke="#b1ed35"/><polyline points="600.85,443.43 601.15,442.2 601.4,441" stroke="#b4ed34"/><polyline points="601.4,441 601.62,439.82 601.83,438.65" stroke="#b7ed33"/><polyline points="601.83,438.65 602.01,437.5 602.16,436.36" stroke="#baed32"/><polyline points="602.16,436.36 602.27,435.23 602.33,434.11" stroke="#bdec31"/><polyline points="602.33,434.11 602.34,433 602.3,431.9" stroke="#bfec31"/><polyline points="602.3,431.9 602.2,430.81 602.04,429.74" stroke="#c2ec30"/><polyline points="602.04,429.74 601.83,428.67 601.58,427.62" stroke="#c5eb2f"/><polyline points="601.58,427.62 601.29,426.57 600.96,425.52" stroke="#c8ea2e"/><polyline points="600.96,425.52 600.59,424.46 600.2,423.4" stroke="#cae92e"/><polyline points="600.2,423.4 599.77,422.32 599.3,421.24" stroke="#cde72d"/><polyline points="599.3,421.24 598.8,420.14 598.26,419.05" stroke="#d0e62c"/><polyline points="598.26,419.05 597.68,417.96 597.08,416.89" stroke="#d4e52b"/><polyline points="597.08,416.89 596.45,415.83 595.8,414.8" stroke="#d7e32a"/><polyline points="595.8,414.8 595.13,413.79 594.43,412.79" stroke="#dae229"/><polyline points="594.43,412.79 593.71,411.81 592.96,410.84" stroke="#dde028"/><polyline points="592.96,410.84 592.18,409.88 591.36,408.94" stroke="#e0df27"/><polyline points="591.36,408.94 590.5,408.01 589.6,407.1" stroke="#e4de26"/><polyline points="589.6,407.1 588.65,406.2 587.66,405.3" stroke="#e7dc25"/><polyline points="587.66,405.3 586.62,404.42 585.55,403.55" stroke="#ebdb24"/><polyline points="585.55,403.55 584.45,402.7 583.32,401.87" stroke="#eed923"/><polyline points="583.32,401.87 582.17,401.07 581,400.3" stroke="#efd523"/><polyline points="581,400.3 579.8,399.56 578.56,398.84" stroke="#f0d023"/><polyline points="578.56,398.84 577.3,398.15 576.01,397.47" stroke="#f1cc23"/><polyline points="576.01,397.47 574.7,396.83 573.39,396.2" stroke="#f2c823"/><polyline points="573.39,396.2 572.09,395.59 570.8,395" stroke="#f3c322"/><polyline points="570.8,395 569.52,394.43 568.23,393.87" stroke="#f4bf22"/><polyline points="568.23,393.87 566.94,393.33 565.65,392.81" stroke="#f5bb22"/><polyline points="565.65,392.81 564.36,392.32 563.07,391.85" stroke="#f6b622"/><polyline points="563.07,391.85 561.78,391.41 560.5,391" stroke="#f7b222"/><polyline points="560.5,391 559.21,390.62 557.91,390.26" stroke="#f7ae22"/><polyline points="557.91,390.26 556.6,389.93 555.3,389.62" stroke="#f7ab22"/><polyline points="555.3,389.62 554.01,389.34 552.74,389.09" stroke="#f7a722"/><polyline points="552.74,389.09 551.5,388.88 550.3,388.7" stroke="#f6a422"/><polyline points="550.3,388.7 549.13,388.56 547.98,388.45" stroke="#f6a122"/><polyline points="547.98,388.45 546.85,388.38 545.75,388.33" stroke="#f69e22"/><polyline points="545.75,388.33 544.67,388.31 543.62,388.32" stroke="#f59b22"/><polyline points="543.62,388.32 542.6,388.35 541.6,388.4" stroke="#f59922"/><polyline points="541.6,388.4 540.64,388.45 539.71,388.5" stroke="#f59622"/><polyline points="539.71,388.5 538.81,388.56 537.93,388.66" stroke="#f49422"/><polyline points="537.93,388.66 537.08,388.79 536.24,388.98" stroke="#f49122"/><polyline points="536.24,388.98 535.42,389.25 534.6,389.6" stroke="#f48f22"/><polyline points="534.6,389.6 533.78,390.03 532.97,390.51" stroke="#f48d22"/><polyline points="532.97,390.51 532.16,391.05 531.38,391.66" stroke="#f38a21"/><polyline points="531.38,391.66 530.62,392.34 529.89,393.08" stroke="#f28720"/><polyline points="529.89,393.08 529.22,393.9 528.6,394.8" stroke="#f1831f"/><polyline points="528.6,394.8 528.02,395.8 527.45,396.92" stroke="#f0801e"/><polyline points="527.45,396.92 526.91,398.12 526.43,399.39" stroke="#ee7c1d"/><polyline points="526.43,399.39 525.99,400.69 525.64,402.01" stroke="#ed771c"/><polyline points="525.64,402.01 525.37,403.32 525.2,404.6" stroke="#ec731b"/><polyline points="525.2,404.6 525.14,405.86 525.17,407.12" stroke="#ea6f1a"/><polyline points="525.17,407.12 525.28,408.4 525.47,409.68" stroke="#e96b19"/><polyline points="525.47,409.68 525.72,410.96 526.04,412.24" stroke="#e86718"/><polyline points="526.04,412.24 526.4,413.52 526.8,414.8" stroke="#e76316"/><polyline points="526.8,414.8 527.25,416.06 527.75,417.31" stroke="#e55f15"/><polyline points="527.75,417.31 528.31,418.55 528.92,419.79" stroke="#e35b14"/><polyline points="528.92,419.79 529.58,421.04 530.3,422.32" stroke="#e05713"/><polyline points="530.3,422.32 531.08,423.64 531.9,425" stroke="#de5212"/><polyline points="531.9,425 532.79,426.42 533.74,427.91" stroke="#db4d11"/><polyline points="533.74,427.91 534.76,429.43 535.82,430.98" stroke="#d84810"/><polyline points="535.82,430.98 536.93,432.52 538.07,434.06" stroke="#d4430e"/><polyline points="538.07,434.06 539.23,435.55 540.4,437" stroke="#d13d0d"/><polyline points="540.4,437 541.59,438.39 542.82,439.75" stroke="#ce380c"/><polyline points="542.82,439.75 544.09,441.09 545.38,442.4" stroke="#ca340b"/><polyline points="545.38,442.4 546.69,443.7 548.01,445" stroke="#c6310a"/><polyline points="548.01,445 549.35,446.29 550.7,447.6" stroke="#c32d09"/><polyline points="550.7,447.6 552.06,448.91 553.44,450.2" stroke="#bf2a08"/><polyline points="553.44,450.2 554.83,451.49 556.24,452.78" stroke="#bb2608"/><polyline points="556.24,452.78 557.67,454.06 559.1,455.36" stroke="#b72307"/><polyline points="559.1,455.36 560.55,456.67 562,458" stroke="#b31f06"/><polyline points="562,458 563.47,459.35 564.96,460.72" stroke="#af1c05"/><polyline points="564.96,460.72 566.46,462.1 567.97,463.49" stroke="#aa1a05"/><polyline points="567.97,463.49 569.48,464.88 571,466.26" stroke="#a51705"/><polyline points="571,466.26 572.5,467.64 574,469" stroke="#a01505"/><polyline points="574,469 575.57,470.42 577.24,471.93" stroke="#9a1204"/><polyline points="577.24,471.93 578.96,473.47 580.65,474.99" stroke="#950f04"/><polyline points="580.65,474.99 582.25,476.42 583.68,477.7" stroke="#900d04"/><polyline points="583.68,477.7 584.89,478.78 585.8,479.6" stroke="#8b0a04"/></g>
<g fill="#e2561c"><polygon points="591.21,477.39 589.09,481.41 593.32,481.41"/><polygon points="595.79,483.41 593.67,487.44 597.91,487.44"/><polygon points="600.48,489.32 598.36,493.35 602.59,493.35"/><polygon points="605.71,497.66 603.59,501.68 607.82,501.68"/><polygon points="605.57,508.23 603.45,512.25 607.68,512.25"/><polygon points="595.31,510.51 593.19,514.54 597.43,514.54"/><polygon points="589.55,516.04 587.43,520.06 591.66,520.06"/><polygon points="582.94,518.53 580.83,522.55 585.06,522.55"/><polygon points="577.44,521.39 575.32,525.41 579.56,525.41"/><polygon points="570.23,524.19 568.11,528.22 572.34,528.22"/><polygon points="562.64,526.21 560.52,530.24 564.75,530.24"/><polygon points="555.87,527.52 553.75,531.54 557.98,531.54"/><polygon points="547.54,530.58 545.43,534.61 549.66,534.61"/><polygon points="539.66,531.32 537.55,535.35 541.78,535.35"/><polygon points="533.33,532.86 531.21,536.89 535.44,536.89"/><polygon points="526.2,533.15 524.08,537.17 528.31,537.17"/><polygon points="526.29,528.41 524.18,532.43 528.41,532.43"/><polygon points="532.89,525.49 530.78,529.51 535.01,529.51"/><polygon points="537.22,519.4 535.1,523.43 539.33,523.43"/><polygon points="544.65,515.26 542.54,519.28 546.77,519.28"/><polygon points="550.87,509.42 548.76,513.44 552.99,513.44"/><polygon points="556.16,505.62 554.04,509.64 558.28,509.64"/><polygon points="563.49,501.02 561.37,505.05 565.6,505.05"/><polygon points="566.88,495.37 564.77,499.39 569,499.39"/><polygon points="573.29,489.67 571.18,493.69 575.41,493.69"/><polygon points="580.74,485.29 578.62,489.32 582.85,489.32"/><polygon points="585.6,478.79 583.48,482.81 587.71,482.81"/><polygon points="588.98,471.9 586.86,475.92 591.09,475.92"/><polygon points="591.2,464.58 589.09,468.61 593.32,468.61"/><polygon points="594.08,457.38 591.96,461.4 596.19,461.4"/><polygon points="594.92,450.44 592.8,454.46 597.04,454.46"/><polygon points="597.73,442.92 595.62,446.94 599.85,446.94"/><polygon points="598.88,435.89 596.76,439.91 601,439.91"/><polygon points="599.53,428.9 597.41,432.92 601.64,432.92"/><polygon points="598.15,421.91 596.03,425.94 600.27,425.94"/><polygon points="594.56,416.09 592.44,420.12 596.67,420.12"/><polygon points="590.61,408.95 588.49,412.98 592.72,412.98"/><polygon points="585.63,405.37 583.52,409.4 587.75,409.4"/><polygon points="579.46,400.49 577.34,404.51 581.57,404.51"/><polygon points="573.88,396.23 571.77,400.26 576,400.26"/><polygon points="565.99,393.41 563.87,397.43 568.1,397.43"/><polygon points="559.78,391.13 557.66,395.15 561.9,395.15"/><polygon points="552.36,389.01 550.24,393.03 554.48,393.03"/><polygon points="544.69,388.45 542.57,392.48 546.81,392.48"/><polygon points="537.66,389.01 535.54,393.04 539.77,393.04"/><polygon points="532.88,392.23 530.76,396.25 535,396.25"/><polygon points="528.36,397.73 526.24,401.75 530.48,401.75"/><polygon points="523.26,404.99 521.14,409.02 525.37,409.02"/><polygon points="524.55,411.8 522.43,415.83 526.66,415.83"/><polygon points="528.57,419.31 526.46,423.34 530.69,423.34"/><polygon points="537.43,423.15 535.31,427.17 539.55,427.17"/><polygon points="541.56,429.06 539.44,433.08 543.67,433.08"/><polygon points="545.32,435.1 543.2,439.12 547.43,439.12"/><polygon points="550.43,440.2 548.32,444.22 552.55,444.22"/><polygon points="556.94,444.11 554.82,448.14 559.05,448.14"/><polygon points="562.32,449.51 560.21,453.54 564.44,453.54"/><polygon points="567.94,455.17 565.82,459.2 570.06,459.2"/><polygon points="573.67,461.04 571.56,465.06 575.79,465.06"/><polygon points="577.62,465.84 575.5,469.86 579.74,469.86"/><polygon points="584.92,471.14 582.8,475.16 587.03,475.16"/></g>
<linearGradient id="gA1" gradientUnits="userSpaceOnUse" x1="517.6" y1="422.4" x2="538.8" y2="447.8"><stop offset="0" stop-color="#cf3a14"/><stop offset="1" stop-color="#c42c0c"/></linearGradient><polyline points="517.6,422.4 518.23,423.53 518.88,424.65 519.55,425.77 520.24,426.88 520.96,427.99 521.7,429.09 522.46,430.18 523.24,431.27 524.05,432.35 524.88,433.42 525.73,434.49 526.6,435.55 527.49,436.61 528.41,437.65 529.35,438.7 530.31,439.73 531.29,440.76 532.3,441.79 533.33,442.81" fill="none" stroke="url(#gA1)" stroke-width="3.4" stroke-linecap="butt"/><polygon points="538.8,447.8 529.88,445.83 535.69,439.22" fill="#c42c0c"/>
<linearGradient id="gA2" gradientUnits="userSpaceOnUse" x1="613.4" y1="440.2" x2="602.4" y2="401.8"><stop offset="0" stop-color="#c6e834"/><stop offset="1" stop-color="#efd42a"/></linearGradient><polyline points="613.4,440.2 613.63,438.36 613.8,436.54 613.91,434.74 613.96,432.97 613.95,431.21 613.87,429.47 613.75,427.76 613.56,426.07 613.31,424.39 613,422.74 612.63,421.11 612.2,419.5 611.71,417.91 611.16,416.34 610.56,414.79 609.89,413.27 609.16,411.76 608.38,410.27 607.53,408.81 606.62,407.37" fill="none" stroke="url(#gA2)" stroke-width="3.0" stroke-linecap="butt"/><polygon points="602.4,401.8 610.24,405.09 604.03,410.14" fill="#efd42a"/>
<linearGradient id="gA3" gradientUnits="userSpaceOnUse" x1="610.2" y1="496.4" x2="599" y2="524.8"><stop offset="0" stop-color="#34309a"/><stop offset="1" stop-color="#4a72e6"/></linearGradient><polyline points="610.2,496.4 610.76,497.78 611.24,499.13 611.62,500.47 611.92,501.8 612.12,503.11 612.24,504.4 612.26,505.67 612.2,506.93 612.05,508.18 611.8,509.4 611.47,510.61 611.05,511.8 610.54,512.98 609.94,514.13 609.25,515.27 608.47,516.4 607.6,517.51 606.64,518.6 605.59,519.67 604.45,520.73" fill="none" stroke="url(#gA3)" stroke-width="3.2" stroke-linecap="butt"/><polygon points="599,524.8 602.79,517.09 607.56,524.01" fill="#4a72e6"/>
<linearGradient id="gA4" gradientUnits="userSpaceOnUse" x1="514.2" y1="529.2" x2="544" y2="506.5"><stop offset="0" stop-color="#3cf0a8"/><stop offset="1" stop-color="#58f08a"/></linearGradient><polyline points="514.2,529.2 515.43,528.27 516.67,527.33 517.9,526.4 519.14,525.46 520.38,524.52 521.61,523.58 522.85,522.64 524.09,521.7 525.33,520.76 526.57,519.81 527.81,518.87 529.05,517.92 530.29,516.98 531.53,516.03 532.78,515.08 534.02,514.13 535.27,513.18 536.51,512.23 537.76,511.28" fill="none" stroke="url(#gA4)" stroke-width="3.2" stroke-linecap="butt"/><polygon points="544,506.5 540.33,514.86 534.97,507.87" fill="#58f08a"/>
<text x="523.5" y="370.2" style="font-size:10.6px">S<tspan dy="2.6" style="font-size:7px">3</tspan></text><text x="634.6" y="440.2" style="font-size:10.6px">S<tspan dy="2.6" style="font-size:7px">2</tspan></text><text x="619" y="488" style="font-size:10.6px">S<tspan dy="2.6" style="font-size:7px">1</tspan></text>
<rect x="595" y="365.2" width="1.2" height="1.9" fill="#2b1568"/><rect x="596" y="365.2" width="1.2" height="1.9" fill="#2f238b"/><rect x="597" y="365.2" width="1.2" height="1.9" fill="#3539b2"/><rect x="598" y="365.2" width="1.2" height="1.9" fill="#3c57d8"/><rect x="599" y="365.2" width="1.2" height="1.9" fill="#4371e7"/><rect x="600" y="365.2" width="1.2" height="1.9" fill="#488cf1"/><rect x="601" y="365.2" width="1.2" height="1.9" fill="#48aef2"/><rect x="602" y="365.2" width="1.2" height="1.9" fill="#3fdcd8"/><rect x="603" y="365.2" width="1.2" height="1.9" fill="#41f09d"/><rect x="604" y="365.2" width="1.2" height="1.9" fill="#53f179"/><rect x="605" y="365.2" width="1.2" height="1.9" fill="#66f258"/><rect x="606" y="365.2" width="1.2" height="1.9" fill="#79f24c"/><rect x="607" y="365.2" width="1.2" height="1.9" fill="#8cf13f"/><rect x="608" y="365.2" width="1.2" height="1.9" fill="#a2ef39"/><rect x="609" y="365.2" width="1.2" height="1.9" fill="#b7ed33"/><rect x="610" y="365.2" width="1.2" height="1.9" fill="#cee72d"/><rect x="611" y="365.2" width="1.2" height="1.9" fill="#e5dd26"/><rect x="612" y="365.2" width="1.2" height="1.9" fill="#f1c923"/><rect x="613" y="365.2" width="1.2" height="1.9" fill="#f7ae22"/><rect x="614" y="365.2" width="1.2" height="1.9" fill="#f59722"/><rect x="615" y="365.2" width="1.2" height="1.9" fill="#ef7d1e"/><rect x="616" y="365.2" width="1.2" height="1.9" fill="#e66116"/><rect x="617" y="365.2" width="1.2" height="1.9" fill="#d7470f"/><rect x="618" y="365.2" width="1.2" height="1.9" fill="#c7310a"/><rect x="619" y="365.2" width="1.2" height="1.9" fill="#b52106"/><rect x="620" y="365.2" width="1.2" height="1.9" fill="#9f1405"/><rect x="621" y="365.2" width="1.2" height="1.9" fill="#8a0a04"/>
<text x="628" y="369.8" style="font-size:10.4px">Target</text>
<polygon points="608.9,380.6 605.9,386.2 611.9,386.2" fill="#e2561c"/>
<text x="628" y="387.4" style="font-size:10.4px">Exp.</text>
</svg>
</body></html>
